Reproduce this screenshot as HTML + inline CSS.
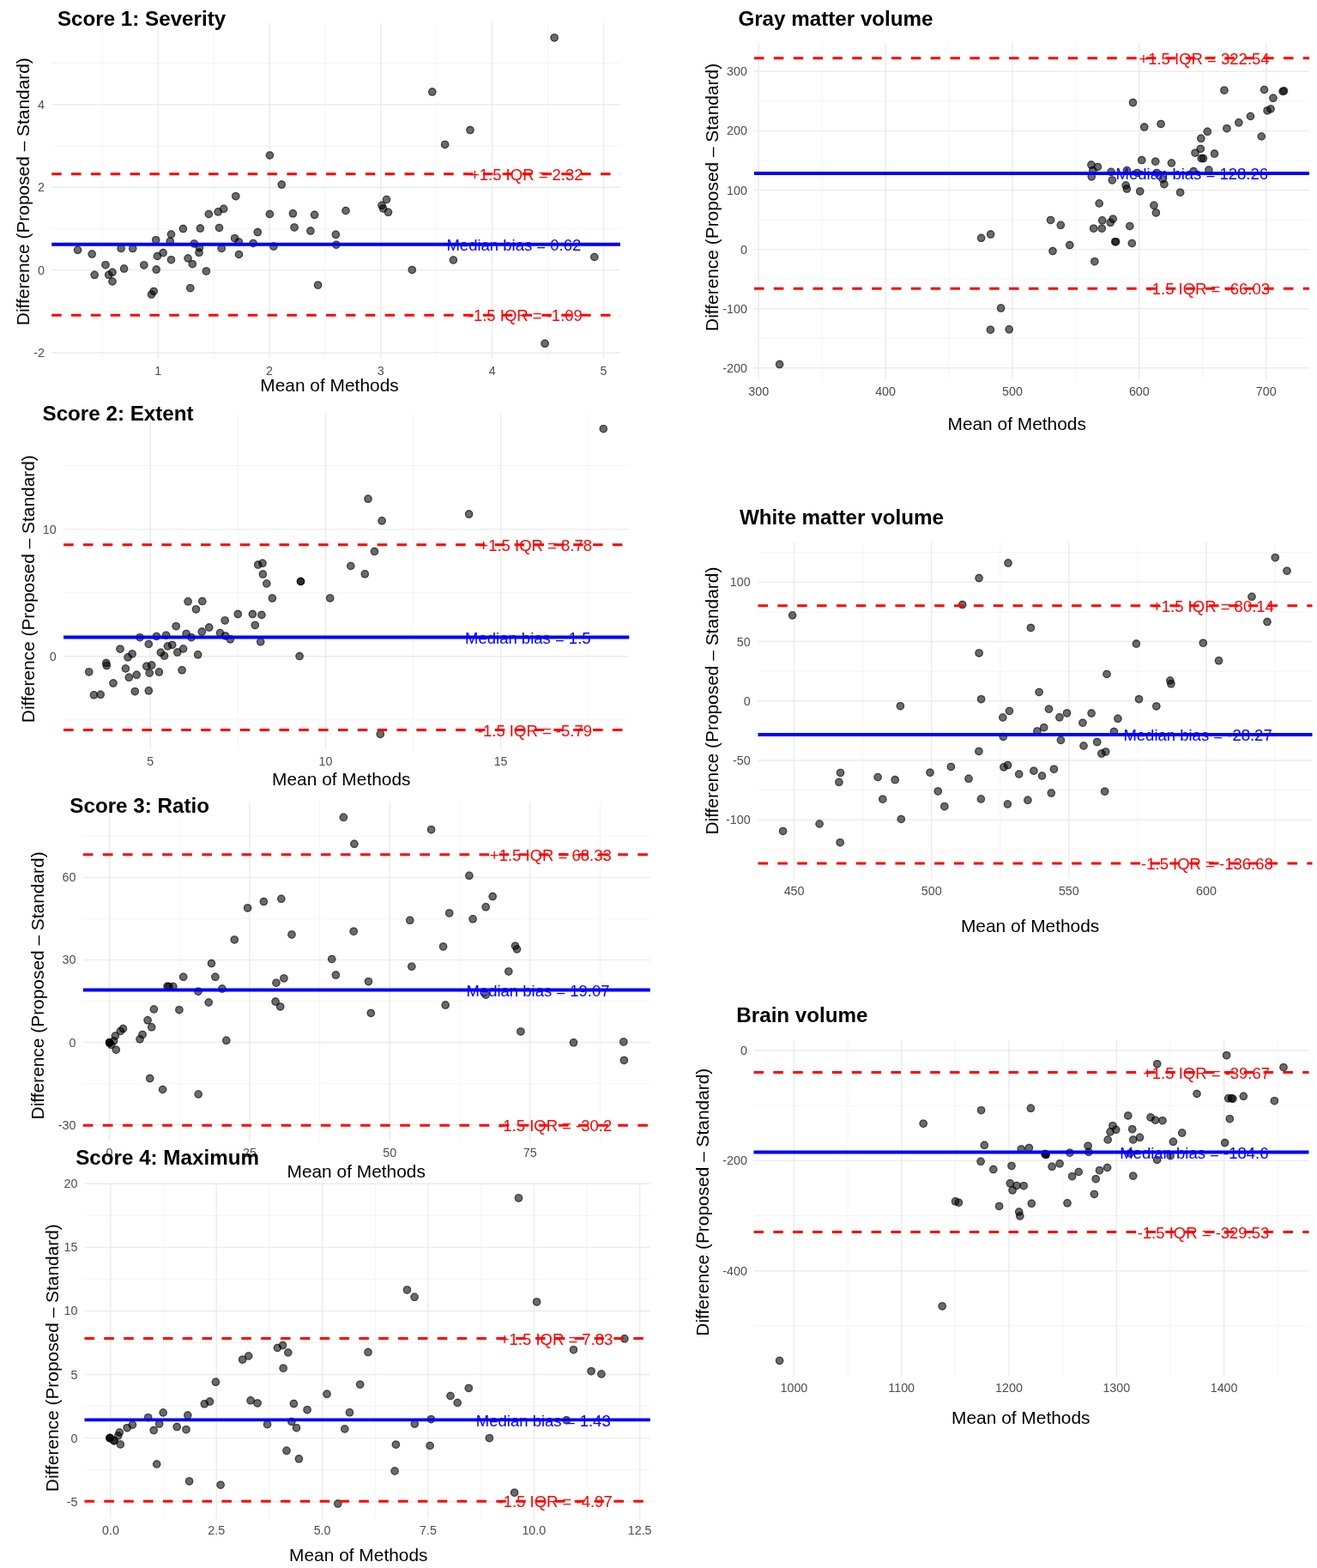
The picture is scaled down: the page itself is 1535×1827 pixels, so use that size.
<!DOCTYPE html>
<html><head><meta charset="utf-8"><title>Bland-Altman plots</title><style>html,body{margin:0;padding:0;background:#fff;}svg{display:block;}</style></head>
<body>
<svg width="1535" height="1827" viewBox="0 0 1535 1827" font-family="'Liberation Sans', Arial, Helvetica, sans-serif">
<rect width="1535" height="1827" fill="#fff"/>
<g><line x1="119.23" y1="26.6" x2="119.23" y2="418" stroke="#F4F4F4" stroke-width="1.0"/><line x1="249.07" y1="26.6" x2="249.07" y2="418" stroke="#F4F4F4" stroke-width="1.0"/><line x1="378.92" y1="26.6" x2="378.92" y2="418" stroke="#F4F4F4" stroke-width="1.0"/><line x1="508.77" y1="26.6" x2="508.77" y2="418" stroke="#F4F4F4" stroke-width="1.0"/><line x1="638.62" y1="26.6" x2="638.62" y2="418" stroke="#F4F4F4" stroke-width="1.0"/><line x1="60.2" y1="362.8" x2="723" y2="362.8" stroke="#F4F4F4" stroke-width="1.0"/><line x1="60.2" y1="266.4" x2="723" y2="266.4" stroke="#F4F4F4" stroke-width="1.0"/><line x1="60.2" y1="170" x2="723" y2="170" stroke="#F4F4F4" stroke-width="1.0"/><line x1="60.2" y1="73.6" x2="723" y2="73.6" stroke="#F4F4F4" stroke-width="1.0"/><line x1="184.15" y1="26.6" x2="184.15" y2="418" stroke="#EBEBEB" stroke-width="1.4"/><line x1="314" y1="26.6" x2="314" y2="418" stroke="#EBEBEB" stroke-width="1.4"/><line x1="443.85" y1="26.6" x2="443.85" y2="418" stroke="#EBEBEB" stroke-width="1.4"/><line x1="573.7" y1="26.6" x2="573.7" y2="418" stroke="#EBEBEB" stroke-width="1.4"/><line x1="703.55" y1="26.6" x2="703.55" y2="418" stroke="#EBEBEB" stroke-width="1.4"/><line x1="60.2" y1="411" x2="723" y2="411" stroke="#EBEBEB" stroke-width="1.4"/><line x1="60.2" y1="314.6" x2="723" y2="314.6" stroke="#EBEBEB" stroke-width="1.4"/><line x1="60.2" y1="218.2" x2="723" y2="218.2" stroke="#EBEBEB" stroke-width="1.4"/><line x1="60.2" y1="121.8" x2="723" y2="121.8" stroke="#EBEBEB" stroke-width="1.4"/></g>
<g fill="#000" fill-opacity="0.58" stroke="#000" stroke-opacity="0.45" stroke-width="1.3"><circle cx="90.6" cy="291.3" r="4.75" stroke="none"/><circle cx="90.6" cy="291.3" r="4.1" fill="none"/><circle cx="107.2" cy="296.1" r="4.75" stroke="none"/><circle cx="107.2" cy="296.1" r="4.1" fill="none"/><circle cx="110.2" cy="320.3" r="4.75" stroke="none"/><circle cx="110.2" cy="320.3" r="4.1" fill="none"/><circle cx="123" cy="308.7" r="4.75" stroke="none"/><circle cx="123" cy="308.7" r="4.1" fill="none"/><circle cx="126.7" cy="320.3" r="4.75" stroke="none"/><circle cx="126.7" cy="320.3" r="4.1" fill="none"/><circle cx="131" cy="317.3" r="4.75" stroke="none"/><circle cx="131" cy="317.3" r="4.1" fill="none"/><circle cx="131" cy="328" r="4.75" stroke="none"/><circle cx="131" cy="328" r="4.1" fill="none"/><circle cx="141.1" cy="289.4" r="4.75" stroke="none"/><circle cx="141.1" cy="289.4" r="4.1" fill="none"/><circle cx="144.6" cy="313.1" r="4.75" stroke="none"/><circle cx="144.6" cy="313.1" r="4.1" fill="none"/><circle cx="154.7" cy="289.6" r="4.75" stroke="none"/><circle cx="154.7" cy="289.6" r="4.1" fill="none"/><circle cx="167.8" cy="308.9" r="4.75" stroke="none"/><circle cx="167.8" cy="308.9" r="4.1" fill="none"/><circle cx="176.5" cy="343.1" r="4.75" stroke="none"/><circle cx="176.5" cy="343.1" r="4.1" fill="none"/><circle cx="179.2" cy="339.4" r="4.75" stroke="none"/><circle cx="179.2" cy="339.4" r="4.1" fill="none"/><circle cx="181.7" cy="279.7" r="4.75" stroke="none"/><circle cx="181.7" cy="279.7" r="4.1" fill="none"/><circle cx="182.2" cy="314.1" r="4.75" stroke="none"/><circle cx="182.2" cy="314.1" r="4.1" fill="none"/><circle cx="183.4" cy="298.5" r="4.75" stroke="none"/><circle cx="183.4" cy="298.5" r="4.1" fill="none"/><circle cx="190.1" cy="294.6" r="4.75" stroke="none"/><circle cx="190.1" cy="294.6" r="4.1" fill="none"/><circle cx="198.3" cy="281.2" r="4.75" stroke="none"/><circle cx="198.3" cy="281.2" r="4.1" fill="none"/><circle cx="199.5" cy="273" r="4.75" stroke="none"/><circle cx="199.5" cy="273" r="4.1" fill="none"/><circle cx="199.5" cy="302.7" r="4.75" stroke="none"/><circle cx="199.5" cy="302.7" r="4.1" fill="none"/><circle cx="213.4" cy="266.6" r="4.75" stroke="none"/><circle cx="213.4" cy="266.6" r="4.1" fill="none"/><circle cx="219.1" cy="301" r="4.75" stroke="none"/><circle cx="219.1" cy="301" r="4.1" fill="none"/><circle cx="221.8" cy="335.7" r="4.75" stroke="none"/><circle cx="221.8" cy="335.7" r="4.1" fill="none"/><circle cx="224.3" cy="307.7" r="4.75" stroke="none"/><circle cx="224.3" cy="307.7" r="4.1" fill="none"/><circle cx="226.3" cy="283.9" r="4.75" stroke="none"/><circle cx="226.3" cy="283.9" r="4.1" fill="none"/><circle cx="232" cy="294.3" r="4.75" stroke="none"/><circle cx="232" cy="294.3" r="4.1" fill="none"/><circle cx="232.5" cy="288.6" r="4.75" stroke="none"/><circle cx="232.5" cy="288.6" r="4.1" fill="none"/><circle cx="233.4" cy="266.1" r="4.75" stroke="none"/><circle cx="233.4" cy="266.1" r="4.1" fill="none"/><circle cx="240.4" cy="315.9" r="4.75" stroke="none"/><circle cx="240.4" cy="315.9" r="4.1" fill="none"/><circle cx="243.3" cy="249.5" r="4.75" stroke="none"/><circle cx="243.3" cy="249.5" r="4.1" fill="none"/><circle cx="254.2" cy="246.8" r="4.75" stroke="none"/><circle cx="254.2" cy="246.8" r="4.1" fill="none"/><circle cx="255.5" cy="265.4" r="4.75" stroke="none"/><circle cx="255.5" cy="265.4" r="4.1" fill="none"/><circle cx="258.2" cy="289.4" r="4.75" stroke="none"/><circle cx="258.2" cy="289.4" r="4.1" fill="none"/><circle cx="260.7" cy="243.3" r="4.75" stroke="none"/><circle cx="260.7" cy="243.3" r="4.1" fill="none"/><circle cx="273.6" cy="277.7" r="4.75" stroke="none"/><circle cx="273.6" cy="277.7" r="4.1" fill="none"/><circle cx="274.8" cy="228.7" r="4.75" stroke="none"/><circle cx="274.8" cy="228.7" r="4.1" fill="none"/><circle cx="278.3" cy="281.9" r="4.75" stroke="none"/><circle cx="278.3" cy="281.9" r="4.1" fill="none"/><circle cx="278.5" cy="296.5" r="4.75" stroke="none"/><circle cx="278.5" cy="296.5" r="4.1" fill="none"/><circle cx="295.1" cy="283.4" r="4.75" stroke="none"/><circle cx="295.1" cy="283.4" r="4.1" fill="none"/><circle cx="300.3" cy="270.6" r="4.75" stroke="none"/><circle cx="300.3" cy="270.6" r="4.1" fill="none"/><circle cx="314.4" cy="249.5" r="4.75" stroke="none"/><circle cx="314.4" cy="249.5" r="4.1" fill="none"/><circle cx="318.9" cy="287.1" r="4.75" stroke="none"/><circle cx="318.9" cy="287.1" r="4.1" fill="none"/><circle cx="328.3" cy="215.1" r="4.75" stroke="none"/><circle cx="328.3" cy="215.1" r="4.1" fill="none"/><circle cx="341.4" cy="248.8" r="4.75" stroke="none"/><circle cx="341.4" cy="248.8" r="4.1" fill="none"/><circle cx="343.1" cy="264.9" r="4.75" stroke="none"/><circle cx="343.1" cy="264.9" r="4.1" fill="none"/><circle cx="361.9" cy="269.1" r="4.75" stroke="none"/><circle cx="361.9" cy="269.1" r="4.1" fill="none"/><circle cx="366.6" cy="250.3" r="4.75" stroke="none"/><circle cx="366.6" cy="250.3" r="4.1" fill="none"/><circle cx="370.6" cy="332.2" r="4.75" stroke="none"/><circle cx="370.6" cy="332.2" r="4.1" fill="none"/><circle cx="314.4" cy="181" r="4.75" stroke="none"/><circle cx="314.4" cy="181" r="4.1" fill="none"/><circle cx="646.1" cy="43.9" r="4.75" stroke="none"/><circle cx="646.1" cy="43.9" r="4.1" fill="none"/><circle cx="503.8" cy="107.1" r="4.75" stroke="none"/><circle cx="503.8" cy="107.1" r="4.1" fill="none"/><circle cx="548" cy="151.6" r="4.75" stroke="none"/><circle cx="548" cy="151.6" r="4.1" fill="none"/><circle cx="518.6" cy="168.4" r="4.75" stroke="none"/><circle cx="518.6" cy="168.4" r="4.1" fill="none"/><circle cx="403" cy="245.5" r="4.75" stroke="none"/><circle cx="403" cy="245.5" r="4.1" fill="none"/><circle cx="450.5" cy="232.5" r="4.75" stroke="none"/><circle cx="450.5" cy="232.5" r="4.1" fill="none"/><circle cx="445" cy="239.3" r="4.75" stroke="none"/><circle cx="445" cy="239.3" r="4.1" fill="none"/><circle cx="446.6" cy="243" r="4.75" stroke="none"/><circle cx="446.6" cy="243" r="4.1" fill="none"/><circle cx="452.5" cy="247.3" r="4.75" stroke="none"/><circle cx="452.5" cy="247.3" r="4.1" fill="none"/><circle cx="391.4" cy="273.3" r="4.75" stroke="none"/><circle cx="391.4" cy="273.3" r="4.1" fill="none"/><circle cx="391.9" cy="285.2" r="4.75" stroke="none"/><circle cx="391.9" cy="285.2" r="4.1" fill="none"/><circle cx="528.4" cy="303" r="4.75" stroke="none"/><circle cx="528.4" cy="303" r="4.1" fill="none"/><circle cx="480.3" cy="314.4" r="4.75" stroke="none"/><circle cx="480.3" cy="314.4" r="4.1" fill="none"/><circle cx="692.8" cy="299.5" r="4.75" stroke="none"/><circle cx="692.8" cy="299.5" r="4.1" fill="none"/><circle cx="635.1" cy="400.3" r="4.75" stroke="none"/><circle cx="635.1" cy="400.3" r="4.1" fill="none"/></g>
<line x1="60.2" y1="202.78" x2="723" y2="202.78" stroke="#FF0000" stroke-width="3.0" stroke-dasharray="11.5 11.35"/>
<line x1="60.2" y1="284.72" x2="723" y2="284.72" stroke="#0000FF" stroke-width="3.9"/>
<line x1="60.2" y1="367.14" x2="723" y2="367.14" stroke="#FF0000" stroke-width="3.0" stroke-dasharray="11.5 11.35"/>
<text x="679.6" y="209.98" text-anchor="end" font-size="18.5" fill="#FF0000">+1.5 IQR = 2.32</text>
<text x="677.3" y="291.92" text-anchor="end" font-size="18.5" fill="#0000FF">Median bias = 0.62</text>
<text x="678.9" y="374.34" text-anchor="end" font-size="18.5" fill="#FF0000">-1.5 IQR = -1.09</text>
<text x="52" y="416" text-anchor="end" font-size="14.3" fill="#4D4D4D">-2</text>
<text x="52" y="319.6" text-anchor="end" font-size="14.3" fill="#4D4D4D">0</text>
<text x="52" y="223.2" text-anchor="end" font-size="14.3" fill="#4D4D4D">2</text>
<text x="52" y="126.8" text-anchor="end" font-size="14.3" fill="#4D4D4D">4</text>
<text x="184.15" y="436.7" text-anchor="middle" font-size="14.3" fill="#4D4D4D">1</text>
<text x="314" y="436.7" text-anchor="middle" font-size="14.3" fill="#4D4D4D">2</text>
<text x="443.85" y="436.7" text-anchor="middle" font-size="14.3" fill="#4D4D4D">3</text>
<text x="573.7" y="436.7" text-anchor="middle" font-size="14.3" fill="#4D4D4D">4</text>
<text x="703.55" y="436.7" text-anchor="middle" font-size="14.3" fill="#4D4D4D">5</text>
<text x="384" y="455.6" text-anchor="middle" font-size="20.9" fill="#000">Mean of Methods</text>
<text transform="translate(33.9,223.2) rotate(-90)" x="0" y="0" text-anchor="middle" font-size="20.9" fill="#000">Difference (Proposed – Standard)</text>
<text x="66.9" y="30.1" font-size="24.2" font-weight="bold" fill="#000">Score 1: Severity</text>
<g><line x1="277.38" y1="482" x2="277.38" y2="873" stroke="#F4F4F4" stroke-width="1.0"/><line x1="481.52" y1="482" x2="481.52" y2="873" stroke="#F4F4F4" stroke-width="1.0"/><line x1="685.67" y1="482" x2="685.67" y2="873" stroke="#F4F4F4" stroke-width="1.0"/><line x1="74.1" y1="838.9" x2="733.3" y2="838.9" stroke="#F4F4F4" stroke-width="1.0"/><line x1="74.1" y1="690.7" x2="733.3" y2="690.7" stroke="#F4F4F4" stroke-width="1.0"/><line x1="74.1" y1="542.5" x2="733.3" y2="542.5" stroke="#F4F4F4" stroke-width="1.0"/><line x1="175.3" y1="482" x2="175.3" y2="873" stroke="#EBEBEB" stroke-width="1.4"/><line x1="379.45" y1="482" x2="379.45" y2="873" stroke="#EBEBEB" stroke-width="1.4"/><line x1="583.6" y1="482" x2="583.6" y2="873" stroke="#EBEBEB" stroke-width="1.4"/><line x1="74.1" y1="764.8" x2="733.3" y2="764.8" stroke="#EBEBEB" stroke-width="1.4"/><line x1="74.1" y1="616.6" x2="733.3" y2="616.6" stroke="#EBEBEB" stroke-width="1.4"/></g>
<g fill="#000" fill-opacity="0.58" stroke="#000" stroke-opacity="0.45" stroke-width="1.3"><circle cx="103.7" cy="782.9" r="4.75" stroke="none"/><circle cx="103.7" cy="782.9" r="4.1" fill="none"/><circle cx="109.4" cy="809.8" r="4.75" stroke="none"/><circle cx="109.4" cy="809.8" r="4.1" fill="none"/><circle cx="117.2" cy="809.3" r="4.75" stroke="none"/><circle cx="117.2" cy="809.3" r="4.1" fill="none"/><circle cx="123.8" cy="772.6" r="4.75" stroke="none"/><circle cx="123.8" cy="772.6" r="4.1" fill="none"/><circle cx="124.3" cy="775.6" r="4.75" stroke="none"/><circle cx="124.3" cy="775.6" r="4.1" fill="none"/><circle cx="132" cy="796.1" r="4.75" stroke="none"/><circle cx="132" cy="796.1" r="4.1" fill="none"/><circle cx="140" cy="756.2" r="4.75" stroke="none"/><circle cx="140" cy="756.2" r="4.1" fill="none"/><circle cx="146.4" cy="779" r="4.75" stroke="none"/><circle cx="146.4" cy="779" r="4.1" fill="none"/><circle cx="149.1" cy="765.8" r="4.75" stroke="none"/><circle cx="149.1" cy="765.8" r="4.1" fill="none"/><circle cx="150.3" cy="789.3" r="4.75" stroke="none"/><circle cx="150.3" cy="789.3" r="4.1" fill="none"/><circle cx="154.1" cy="761.9" r="4.75" stroke="none"/><circle cx="154.1" cy="761.9" r="4.1" fill="none"/><circle cx="157.3" cy="805.7" r="4.75" stroke="none"/><circle cx="157.3" cy="805.7" r="4.1" fill="none"/><circle cx="159.2" cy="786.3" r="4.75" stroke="none"/><circle cx="159.2" cy="786.3" r="4.1" fill="none"/><circle cx="163" cy="742.7" r="4.75" stroke="none"/><circle cx="163" cy="742.7" r="4.1" fill="none"/><circle cx="170.8" cy="776.3" r="4.75" stroke="none"/><circle cx="170.8" cy="776.3" r="4.1" fill="none"/><circle cx="173.3" cy="750.5" r="4.75" stroke="none"/><circle cx="173.3" cy="750.5" r="4.1" fill="none"/><circle cx="173.3" cy="804.8" r="4.75" stroke="none"/><circle cx="173.3" cy="804.8" r="4.1" fill="none"/><circle cx="174.2" cy="784.2" r="4.75" stroke="none"/><circle cx="174.2" cy="784.2" r="4.1" fill="none"/><circle cx="176.7" cy="775.1" r="4.75" stroke="none"/><circle cx="176.7" cy="775.1" r="4.1" fill="none"/><circle cx="182.4" cy="741.4" r="4.75" stroke="none"/><circle cx="182.4" cy="741.4" r="4.1" fill="none"/><circle cx="185.4" cy="783.1" r="4.75" stroke="none"/><circle cx="185.4" cy="783.1" r="4.1" fill="none"/><circle cx="187.4" cy="760.3" r="4.75" stroke="none"/><circle cx="187.4" cy="760.3" r="4.1" fill="none"/><circle cx="191.5" cy="764.2" r="4.75" stroke="none"/><circle cx="191.5" cy="764.2" r="4.1" fill="none"/><circle cx="193.6" cy="740.2" r="4.75" stroke="none"/><circle cx="193.6" cy="740.2" r="4.1" fill="none"/><circle cx="195.4" cy="753" r="4.75" stroke="none"/><circle cx="195.4" cy="753" r="4.1" fill="none"/><circle cx="200.7" cy="751.4" r="4.75" stroke="none"/><circle cx="200.7" cy="751.4" r="4.1" fill="none"/><circle cx="205.2" cy="729.7" r="4.75" stroke="none"/><circle cx="205.2" cy="729.7" r="4.1" fill="none"/><circle cx="206.8" cy="760.1" r="4.75" stroke="none"/><circle cx="206.8" cy="760.1" r="4.1" fill="none"/><circle cx="212.1" cy="780.8" r="4.75" stroke="none"/><circle cx="212.1" cy="780.8" r="4.1" fill="none"/><circle cx="213.6" cy="756" r="4.75" stroke="none"/><circle cx="213.6" cy="756" r="4.1" fill="none"/><circle cx="217.1" cy="738.4" r="4.75" stroke="none"/><circle cx="217.1" cy="738.4" r="4.1" fill="none"/><circle cx="219.1" cy="700.8" r="4.75" stroke="none"/><circle cx="219.1" cy="700.8" r="4.1" fill="none"/><circle cx="223" cy="742.7" r="4.75" stroke="none"/><circle cx="223" cy="742.7" r="4.1" fill="none"/><circle cx="228.5" cy="709.9" r="4.75" stroke="none"/><circle cx="228.5" cy="709.9" r="4.1" fill="none"/><circle cx="230.7" cy="762.8" r="4.75" stroke="none"/><circle cx="230.7" cy="762.8" r="4.1" fill="none"/><circle cx="235.3" cy="736.1" r="4.75" stroke="none"/><circle cx="235.3" cy="736.1" r="4.1" fill="none"/><circle cx="235.8" cy="700.6" r="4.75" stroke="none"/><circle cx="235.8" cy="700.6" r="4.1" fill="none"/><circle cx="243.7" cy="731.1" r="4.75" stroke="none"/><circle cx="243.7" cy="731.1" r="4.1" fill="none"/><circle cx="256.5" cy="737.5" r="4.75" stroke="none"/><circle cx="256.5" cy="737.5" r="4.1" fill="none"/><circle cx="262.2" cy="722.9" r="4.75" stroke="none"/><circle cx="262.2" cy="722.9" r="4.1" fill="none"/><circle cx="262.7" cy="740.9" r="4.75" stroke="none"/><circle cx="262.7" cy="740.9" r="4.1" fill="none"/><circle cx="268.4" cy="744.8" r="4.75" stroke="none"/><circle cx="268.4" cy="744.8" r="4.1" fill="none"/><circle cx="277.3" cy="715.6" r="4.75" stroke="none"/><circle cx="277.3" cy="715.6" r="4.1" fill="none"/><circle cx="294.4" cy="715.6" r="4.75" stroke="none"/><circle cx="294.4" cy="715.6" r="4.1" fill="none"/><circle cx="297.3" cy="728.4" r="4.75" stroke="none"/><circle cx="297.3" cy="728.4" r="4.1" fill="none"/><circle cx="300.7" cy="658.1" r="4.75" stroke="none"/><circle cx="300.7" cy="658.1" r="4.1" fill="none"/><circle cx="303.7" cy="747.8" r="4.75" stroke="none"/><circle cx="303.7" cy="747.8" r="4.1" fill="none"/><circle cx="304.9" cy="716.5" r="4.75" stroke="none"/><circle cx="304.9" cy="716.5" r="4.1" fill="none"/><circle cx="306" cy="656.3" r="4.75" stroke="none"/><circle cx="306" cy="656.3" r="4.1" fill="none"/><circle cx="306.4" cy="669.1" r="4.75" stroke="none"/><circle cx="306.4" cy="669.1" r="4.1" fill="none"/><circle cx="310.8" cy="680" r="4.75" stroke="none"/><circle cx="310.8" cy="680" r="4.1" fill="none"/><circle cx="317.4" cy="697.1" r="4.75" stroke="none"/><circle cx="317.4" cy="697.1" r="4.1" fill="none"/><circle cx="349.1" cy="764.6" r="4.75" stroke="none"/><circle cx="349.1" cy="764.6" r="4.1" fill="none"/><circle cx="350.5" cy="677.5" r="4.75" stroke="none"/><circle cx="350.5" cy="677.5" r="4.1" fill="none"/><circle cx="350.5" cy="677.5" r="4.75" stroke="none"/><circle cx="350.5" cy="677.5" r="4.1" fill="none"/><circle cx="384.7" cy="696.9" r="4.75" stroke="none"/><circle cx="384.7" cy="696.9" r="4.1" fill="none"/><circle cx="408.8" cy="659.5" r="4.75" stroke="none"/><circle cx="408.8" cy="659.5" r="4.1" fill="none"/><circle cx="703.3" cy="499.7" r="4.75" stroke="none"/><circle cx="703.3" cy="499.7" r="4.1" fill="none"/><circle cx="429" cy="581.3" r="4.75" stroke="none"/><circle cx="429" cy="581.3" r="4.1" fill="none"/><circle cx="445.1" cy="606.8" r="4.75" stroke="none"/><circle cx="445.1" cy="606.8" r="4.1" fill="none"/><circle cx="546.6" cy="599.1" r="4.75" stroke="none"/><circle cx="546.6" cy="599.1" r="4.1" fill="none"/><circle cx="436.5" cy="642.6" r="4.75" stroke="none"/><circle cx="436.5" cy="642.6" r="4.1" fill="none"/><circle cx="425.3" cy="668.8" r="4.75" stroke="none"/><circle cx="425.3" cy="668.8" r="4.1" fill="none"/><circle cx="443.3" cy="855.4" r="4.75" stroke="none"/><circle cx="443.3" cy="855.4" r="4.1" fill="none"/></g>
<line x1="74.1" y1="634.68" x2="733.3" y2="634.68" stroke="#FF0000" stroke-width="3.0" stroke-dasharray="11.5 11.35"/>
<line x1="74.1" y1="742.57" x2="733.3" y2="742.57" stroke="#0000FF" stroke-width="3.9"/>
<line x1="74.1" y1="850.61" x2="733.3" y2="850.61" stroke="#FF0000" stroke-width="3.0" stroke-dasharray="11.5 11.35"/>
<text x="690" y="641.88" text-anchor="end" font-size="18.5" fill="#FF0000">+1.5 IQR = 8.78</text>
<text x="688.6" y="749.77" text-anchor="end" font-size="18.5" fill="#0000FF">Median bias = 1.5</text>
<text x="690" y="857.81" text-anchor="end" font-size="18.5" fill="#FF0000">-1.5 IQR = -5.79</text>
<text x="65.6" y="769.8" text-anchor="end" font-size="14.3" fill="#4D4D4D">0</text>
<text x="65.6" y="621.6" text-anchor="end" font-size="14.3" fill="#4D4D4D">10</text>
<text x="175.3" y="892.1" text-anchor="middle" font-size="14.3" fill="#4D4D4D">5</text>
<text x="379.45" y="892.1" text-anchor="middle" font-size="14.3" fill="#4D4D4D">10</text>
<text x="583.6" y="892.1" text-anchor="middle" font-size="14.3" fill="#4D4D4D">15</text>
<text x="397.8" y="914.6" text-anchor="middle" font-size="20.9" fill="#000">Mean of Methods</text>
<text transform="translate(39.6,686.2) rotate(-90)" x="0" y="0" text-anchor="middle" font-size="20.9" fill="#000">Difference (Proposed – Standard)</text>
<text x="49.5" y="490" font-size="24.2" font-weight="bold" fill="#000">Score 2: Extent</text>
<g><line x1="209.2" y1="934.5" x2="209.2" y2="1328.8" stroke="#F4F4F4" stroke-width="1.0"/><line x1="372.6" y1="934.5" x2="372.6" y2="1328.8" stroke="#F4F4F4" stroke-width="1.0"/><line x1="536" y1="934.5" x2="536" y2="1328.8" stroke="#F4F4F4" stroke-width="1.0"/><line x1="699.4" y1="934.5" x2="699.4" y2="1328.8" stroke="#F4F4F4" stroke-width="1.0"/><line x1="96.8" y1="1262.53" x2="757.8" y2="1262.53" stroke="#F4F4F4" stroke-width="1.0"/><line x1="96.8" y1="1166.47" x2="757.8" y2="1166.47" stroke="#F4F4F4" stroke-width="1.0"/><line x1="96.8" y1="1070.42" x2="757.8" y2="1070.42" stroke="#F4F4F4" stroke-width="1.0"/><line x1="96.8" y1="974.37" x2="757.8" y2="974.37" stroke="#F4F4F4" stroke-width="1.0"/><line x1="127.5" y1="934.5" x2="127.5" y2="1328.8" stroke="#EBEBEB" stroke-width="1.4"/><line x1="290.9" y1="934.5" x2="290.9" y2="1328.8" stroke="#EBEBEB" stroke-width="1.4"/><line x1="454.3" y1="934.5" x2="454.3" y2="1328.8" stroke="#EBEBEB" stroke-width="1.4"/><line x1="617.7" y1="934.5" x2="617.7" y2="1328.8" stroke="#EBEBEB" stroke-width="1.4"/><line x1="96.8" y1="1310.55" x2="757.8" y2="1310.55" stroke="#EBEBEB" stroke-width="1.4"/><line x1="96.8" y1="1214.5" x2="757.8" y2="1214.5" stroke="#EBEBEB" stroke-width="1.4"/><line x1="96.8" y1="1118.45" x2="757.8" y2="1118.45" stroke="#EBEBEB" stroke-width="1.4"/><line x1="96.8" y1="1022.4" x2="757.8" y2="1022.4" stroke="#EBEBEB" stroke-width="1.4"/></g>
<g fill="#000" fill-opacity="0.58" stroke="#000" stroke-opacity="0.45" stroke-width="1.3"><circle cx="127.6" cy="1214.8" r="4.75" stroke="none"/><circle cx="127.6" cy="1214.8" r="4.1" fill="none"/><circle cx="127.6" cy="1214.8" r="4.75" stroke="none"/><circle cx="127.6" cy="1214.8" r="4.1" fill="none"/><circle cx="127.6" cy="1214.8" r="4.75" stroke="none"/><circle cx="127.6" cy="1214.8" r="4.1" fill="none"/><circle cx="129.6" cy="1217.3" r="4.75" stroke="none"/><circle cx="129.6" cy="1217.3" r="4.1" fill="none"/><circle cx="132.6" cy="1212.8" r="4.75" stroke="none"/><circle cx="132.6" cy="1212.8" r="4.1" fill="none"/><circle cx="135.3" cy="1223.2" r="4.75" stroke="none"/><circle cx="135.3" cy="1223.2" r="4.1" fill="none"/><circle cx="134.4" cy="1207" r="4.75" stroke="none"/><circle cx="134.4" cy="1207" r="4.1" fill="none"/><circle cx="140.4" cy="1201.5" r="4.75" stroke="none"/><circle cx="140.4" cy="1201.5" r="4.1" fill="none"/><circle cx="143.5" cy="1198.6" r="4.75" stroke="none"/><circle cx="143.5" cy="1198.6" r="4.1" fill="none"/><circle cx="163" cy="1210.8" r="4.75" stroke="none"/><circle cx="163" cy="1210.8" r="4.1" fill="none"/><circle cx="166.1" cy="1205.4" r="4.75" stroke="none"/><circle cx="166.1" cy="1205.4" r="4.1" fill="none"/><circle cx="172.1" cy="1188.8" r="4.75" stroke="none"/><circle cx="172.1" cy="1188.8" r="4.1" fill="none"/><circle cx="176.7" cy="1196.8" r="4.75" stroke="none"/><circle cx="176.7" cy="1196.8" r="4.1" fill="none"/><circle cx="179.4" cy="1176" r="4.75" stroke="none"/><circle cx="179.4" cy="1176" r="4.1" fill="none"/><circle cx="174.7" cy="1256.6" r="4.75" stroke="none"/><circle cx="174.7" cy="1256.6" r="4.1" fill="none"/><circle cx="189.6" cy="1269.5" r="4.75" stroke="none"/><circle cx="189.6" cy="1269.5" r="4.1" fill="none"/><circle cx="195.1" cy="1149.2" r="4.75" stroke="none"/><circle cx="195.1" cy="1149.2" r="4.1" fill="none"/><circle cx="196.9" cy="1149.4" r="4.75" stroke="none"/><circle cx="196.9" cy="1149.4" r="4.1" fill="none"/><circle cx="201.8" cy="1149.4" r="4.75" stroke="none"/><circle cx="201.8" cy="1149.4" r="4.1" fill="none"/><circle cx="208.9" cy="1176.7" r="4.75" stroke="none"/><circle cx="208.9" cy="1176.7" r="4.1" fill="none"/><circle cx="213.7" cy="1138.3" r="4.75" stroke="none"/><circle cx="213.7" cy="1138.3" r="4.1" fill="none"/><circle cx="231" cy="1155.2" r="4.75" stroke="none"/><circle cx="231" cy="1155.2" r="4.1" fill="none"/><circle cx="231.2" cy="1275" r="4.75" stroke="none"/><circle cx="231.2" cy="1275" r="4.1" fill="none"/><circle cx="243.2" cy="1168" r="4.75" stroke="none"/><circle cx="243.2" cy="1168" r="4.1" fill="none"/><circle cx="246.5" cy="1122.6" r="4.75" stroke="none"/><circle cx="246.5" cy="1122.6" r="4.1" fill="none"/><circle cx="250.9" cy="1138.3" r="4.75" stroke="none"/><circle cx="250.9" cy="1138.3" r="4.1" fill="none"/><circle cx="258.9" cy="1152.1" r="4.75" stroke="none"/><circle cx="258.9" cy="1152.1" r="4.1" fill="none"/><circle cx="263.8" cy="1212.3" r="4.75" stroke="none"/><circle cx="263.8" cy="1212.3" r="4.1" fill="none"/><circle cx="273.3" cy="1094.9" r="4.75" stroke="none"/><circle cx="273.3" cy="1094.9" r="4.1" fill="none"/><circle cx="288.6" cy="1057.9" r="4.75" stroke="none"/><circle cx="288.6" cy="1057.9" r="4.1" fill="none"/><circle cx="307.4" cy="1050.6" r="4.75" stroke="none"/><circle cx="307.4" cy="1050.6" r="4.1" fill="none"/><circle cx="321.1" cy="1167.1" r="4.75" stroke="none"/><circle cx="321.1" cy="1167.1" r="4.1" fill="none"/><circle cx="322" cy="1145.2" r="4.75" stroke="none"/><circle cx="322" cy="1145.2" r="4.1" fill="none"/><circle cx="326.7" cy="1172.9" r="4.75" stroke="none"/><circle cx="326.7" cy="1172.9" r="4.1" fill="none"/><circle cx="327.8" cy="1047.3" r="4.75" stroke="none"/><circle cx="327.8" cy="1047.3" r="4.1" fill="none"/><circle cx="330.9" cy="1139.9" r="4.75" stroke="none"/><circle cx="330.9" cy="1139.9" r="4.1" fill="none"/><circle cx="340" cy="1088.9" r="4.75" stroke="none"/><circle cx="340" cy="1088.9" r="4.1" fill="none"/><circle cx="386.7" cy="1117.5" r="4.75" stroke="none"/><circle cx="386.7" cy="1117.5" r="4.1" fill="none"/><circle cx="391.4" cy="1136.1" r="4.75" stroke="none"/><circle cx="391.4" cy="1136.1" r="4.1" fill="none"/><circle cx="400.4" cy="952.3" r="4.75" stroke="none"/><circle cx="400.4" cy="952.3" r="4.1" fill="none"/><circle cx="412.2" cy="1085.2" r="4.75" stroke="none"/><circle cx="412.2" cy="1085.2" r="4.1" fill="none"/><circle cx="412.9" cy="983.3" r="4.75" stroke="none"/><circle cx="412.9" cy="983.3" r="4.1" fill="none"/><circle cx="429.5" cy="1143.7" r="4.75" stroke="none"/><circle cx="429.5" cy="1143.7" r="4.1" fill="none"/><circle cx="432.3" cy="1180.4" r="4.75" stroke="none"/><circle cx="432.3" cy="1180.4" r="4.1" fill="none"/><circle cx="502.6" cy="966.7" r="4.75" stroke="none"/><circle cx="502.6" cy="966.7" r="4.1" fill="none"/><circle cx="546.9" cy="1020.3" r="4.75" stroke="none"/><circle cx="546.9" cy="1020.3" r="4.1" fill="none"/><circle cx="574.2" cy="1044.6" r="4.75" stroke="none"/><circle cx="574.2" cy="1044.6" r="4.1" fill="none"/><circle cx="566.2" cy="1056.8" r="4.75" stroke="none"/><circle cx="566.2" cy="1056.8" r="4.1" fill="none"/><circle cx="523.7" cy="1063.9" r="4.75" stroke="none"/><circle cx="523.7" cy="1063.9" r="4.1" fill="none"/><circle cx="477.8" cy="1072.3" r="4.75" stroke="none"/><circle cx="477.8" cy="1072.3" r="4.1" fill="none"/><circle cx="551.1" cy="1070.8" r="4.75" stroke="none"/><circle cx="551.1" cy="1070.8" r="4.1" fill="none"/><circle cx="516.6" cy="1102.9" r="4.75" stroke="none"/><circle cx="516.6" cy="1102.9" r="4.1" fill="none"/><circle cx="600.5" cy="1102.2" r="4.75" stroke="none"/><circle cx="600.5" cy="1102.2" r="4.1" fill="none"/><circle cx="602.5" cy="1106" r="4.75" stroke="none"/><circle cx="602.5" cy="1106" r="4.1" fill="none"/><circle cx="479.8" cy="1126.2" r="4.75" stroke="none"/><circle cx="479.8" cy="1126.2" r="4.1" fill="none"/><circle cx="592.8" cy="1131.9" r="4.75" stroke="none"/><circle cx="592.8" cy="1131.9" r="4.1" fill="none"/><circle cx="566.2" cy="1159.2" r="4.75" stroke="none"/><circle cx="566.2" cy="1159.2" r="4.1" fill="none"/><circle cx="519.2" cy="1171.1" r="4.75" stroke="none"/><circle cx="519.2" cy="1171.1" r="4.1" fill="none"/><circle cx="606.9" cy="1201.9" r="4.75" stroke="none"/><circle cx="606.9" cy="1201.9" r="4.1" fill="none"/><circle cx="668.5" cy="1214.8" r="4.75" stroke="none"/><circle cx="668.5" cy="1214.8" r="4.1" fill="none"/><circle cx="726.8" cy="1213.9" r="4.75" stroke="none"/><circle cx="726.8" cy="1213.9" r="4.1" fill="none"/><circle cx="727.4" cy="1235.4" r="4.75" stroke="none"/><circle cx="727.4" cy="1235.4" r="4.1" fill="none"/></g>
<line x1="96.8" y1="995.73" x2="757.8" y2="995.73" stroke="#FF0000" stroke-width="3.0" stroke-dasharray="11.6 11.49"/>
<line x1="96.8" y1="1153.44" x2="757.8" y2="1153.44" stroke="#0000FF" stroke-width="3.9"/>
<line x1="96.8" y1="1311.19" x2="757.8" y2="1311.19" stroke="#FF0000" stroke-width="3.0" stroke-dasharray="11.6 11.49"/>
<text x="712.8" y="1002.93" text-anchor="end" font-size="18.5" fill="#FF0000">+1.5 IQR = 68.33</text>
<text x="710.6" y="1160.64" text-anchor="end" font-size="18.5" fill="#0000FF">Median bias = 19.07</text>
<text x="713.3" y="1318.39" text-anchor="end" font-size="18.5" fill="#FF0000">-1.5 IQR = -30.2</text>
<text x="88.5" y="1315.55" text-anchor="end" font-size="14.3" fill="#4D4D4D">-30</text>
<text x="88.5" y="1219.5" text-anchor="end" font-size="14.3" fill="#4D4D4D">0</text>
<text x="88.5" y="1123.45" text-anchor="end" font-size="14.3" fill="#4D4D4D">30</text>
<text x="88.5" y="1027.4" text-anchor="end" font-size="14.3" fill="#4D4D4D">60</text>
<text x="127.5" y="1348.2" text-anchor="middle" font-size="14.3" fill="#4D4D4D">0</text>
<text x="290.9" y="1348.2" text-anchor="middle" font-size="14.3" fill="#4D4D4D">25</text>
<text x="454.3" y="1348.2" text-anchor="middle" font-size="14.3" fill="#4D4D4D">50</text>
<text x="617.7" y="1348.2" text-anchor="middle" font-size="14.3" fill="#4D4D4D">75</text>
<text x="415.2" y="1372.3" text-anchor="middle" font-size="20.9" fill="#000">Mean of Methods</text>
<text transform="translate(50.7,1148.4) rotate(-90)" x="0" y="0" text-anchor="middle" font-size="20.9" fill="#000">Difference (Proposed – Standard)</text>
<text x="81.3" y="946.7" font-size="24.2" font-weight="bold" fill="#000">Score 3: Ratio</text>
<g><line x1="190.58" y1="1378" x2="190.58" y2="1769.5" stroke="#F4F4F4" stroke-width="1.0"/><line x1="313.93" y1="1378" x2="313.93" y2="1769.5" stroke="#F4F4F4" stroke-width="1.0"/><line x1="437.27" y1="1378" x2="437.27" y2="1769.5" stroke="#F4F4F4" stroke-width="1.0"/><line x1="560.62" y1="1378" x2="560.62" y2="1769.5" stroke="#F4F4F4" stroke-width="1.0"/><line x1="683.98" y1="1378" x2="683.98" y2="1769.5" stroke="#F4F4F4" stroke-width="1.0"/><line x1="98.5" y1="1712.64" x2="757.8" y2="1712.64" stroke="#F4F4F4" stroke-width="1.0"/><line x1="98.5" y1="1638.56" x2="757.8" y2="1638.56" stroke="#F4F4F4" stroke-width="1.0"/><line x1="98.5" y1="1564.49" x2="757.8" y2="1564.49" stroke="#F4F4F4" stroke-width="1.0"/><line x1="98.5" y1="1490.41" x2="757.8" y2="1490.41" stroke="#F4F4F4" stroke-width="1.0"/><line x1="98.5" y1="1416.34" x2="757.8" y2="1416.34" stroke="#F4F4F4" stroke-width="1.0"/><line x1="128.9" y1="1378" x2="128.9" y2="1769.5" stroke="#EBEBEB" stroke-width="1.4"/><line x1="252.25" y1="1378" x2="252.25" y2="1769.5" stroke="#EBEBEB" stroke-width="1.4"/><line x1="375.6" y1="1378" x2="375.6" y2="1769.5" stroke="#EBEBEB" stroke-width="1.4"/><line x1="498.95" y1="1378" x2="498.95" y2="1769.5" stroke="#EBEBEB" stroke-width="1.4"/><line x1="622.3" y1="1378" x2="622.3" y2="1769.5" stroke="#EBEBEB" stroke-width="1.4"/><line x1="745.65" y1="1378" x2="745.65" y2="1769.5" stroke="#EBEBEB" stroke-width="1.4"/><line x1="98.5" y1="1749.67" x2="757.8" y2="1749.67" stroke="#EBEBEB" stroke-width="1.4"/><line x1="98.5" y1="1675.6" x2="757.8" y2="1675.6" stroke="#EBEBEB" stroke-width="1.4"/><line x1="98.5" y1="1601.52" x2="757.8" y2="1601.52" stroke="#EBEBEB" stroke-width="1.4"/><line x1="98.5" y1="1527.45" x2="757.8" y2="1527.45" stroke="#EBEBEB" stroke-width="1.4"/><line x1="98.5" y1="1453.38" x2="757.8" y2="1453.38" stroke="#EBEBEB" stroke-width="1.4"/><line x1="98.5" y1="1379.3" x2="757.8" y2="1379.3" stroke="#EBEBEB" stroke-width="1.4"/></g>
<g fill="#000" fill-opacity="0.58" stroke="#000" stroke-opacity="0.45" stroke-width="1.3"><circle cx="128.1" cy="1675.6" r="4.75" stroke="none"/><circle cx="128.1" cy="1675.6" r="4.1" fill="none"/><circle cx="128.1" cy="1675.6" r="4.75" stroke="none"/><circle cx="128.1" cy="1675.6" r="4.1" fill="none"/><circle cx="128.1" cy="1675.6" r="4.75" stroke="none"/><circle cx="128.1" cy="1675.6" r="4.1" fill="none"/><circle cx="132.9" cy="1678.7" r="4.75" stroke="none"/><circle cx="132.9" cy="1678.7" r="4.1" fill="none"/><circle cx="132.9" cy="1678.7" r="4.75" stroke="none"/><circle cx="132.9" cy="1678.7" r="4.1" fill="none"/><circle cx="137.7" cy="1673" r="4.75" stroke="none"/><circle cx="137.7" cy="1673" r="4.1" fill="none"/><circle cx="139.3" cy="1669" r="4.75" stroke="none"/><circle cx="139.3" cy="1669" r="4.1" fill="none"/><circle cx="140.4" cy="1683" r="4.75" stroke="none"/><circle cx="140.4" cy="1683" r="4.1" fill="none"/><circle cx="148.2" cy="1663.7" r="4.75" stroke="none"/><circle cx="148.2" cy="1663.7" r="4.1" fill="none"/><circle cx="154.4" cy="1660.2" r="4.75" stroke="none"/><circle cx="154.4" cy="1660.2" r="4.1" fill="none"/><circle cx="172.7" cy="1651.7" r="4.75" stroke="none"/><circle cx="172.7" cy="1651.7" r="4.1" fill="none"/><circle cx="179.2" cy="1666.6" r="4.75" stroke="none"/><circle cx="179.2" cy="1666.6" r="4.1" fill="none"/><circle cx="182.7" cy="1706" r="4.75" stroke="none"/><circle cx="182.7" cy="1706" r="4.1" fill="none"/><circle cx="185.6" cy="1659.1" r="4.75" stroke="none"/><circle cx="185.6" cy="1659.1" r="4.1" fill="none"/><circle cx="190.2" cy="1646" r="4.75" stroke="none"/><circle cx="190.2" cy="1646" r="4.1" fill="none"/><circle cx="206.2" cy="1662.6" r="4.75" stroke="none"/><circle cx="206.2" cy="1662.6" r="4.1" fill="none"/><circle cx="217" cy="1665.7" r="4.75" stroke="none"/><circle cx="217" cy="1665.7" r="4.1" fill="none"/><circle cx="218.8" cy="1649.1" r="4.75" stroke="none"/><circle cx="218.8" cy="1649.1" r="4.1" fill="none"/><circle cx="220.6" cy="1725.9" r="4.75" stroke="none"/><circle cx="220.6" cy="1725.9" r="4.1" fill="none"/><circle cx="238.3" cy="1635.8" r="4.75" stroke="none"/><circle cx="238.3" cy="1635.8" r="4.1" fill="none"/><circle cx="244.5" cy="1633.1" r="4.75" stroke="none"/><circle cx="244.5" cy="1633.1" r="4.1" fill="none"/><circle cx="251.4" cy="1610.3" r="4.75" stroke="none"/><circle cx="251.4" cy="1610.3" r="4.1" fill="none"/><circle cx="257.1" cy="1730.2" r="4.75" stroke="none"/><circle cx="257.1" cy="1730.2" r="4.1" fill="none"/><circle cx="282.6" cy="1584.2" r="4.75" stroke="none"/><circle cx="282.6" cy="1584.2" r="4.1" fill="none"/><circle cx="289.7" cy="1580" r="4.75" stroke="none"/><circle cx="289.7" cy="1580" r="4.1" fill="none"/><circle cx="292.1" cy="1631.8" r="4.75" stroke="none"/><circle cx="292.1" cy="1631.8" r="4.1" fill="none"/><circle cx="300.1" cy="1634.9" r="4.75" stroke="none"/><circle cx="300.1" cy="1634.9" r="4.1" fill="none"/><circle cx="311.6" cy="1659.7" r="4.75" stroke="none"/><circle cx="311.6" cy="1659.7" r="4.1" fill="none"/><circle cx="323.4" cy="1570.5" r="4.75" stroke="none"/><circle cx="323.4" cy="1570.5" r="4.1" fill="none"/><circle cx="329.6" cy="1567.6" r="4.75" stroke="none"/><circle cx="329.6" cy="1567.6" r="4.1" fill="none"/><circle cx="330.2" cy="1594.2" r="4.75" stroke="none"/><circle cx="330.2" cy="1594.2" r="4.1" fill="none"/><circle cx="334" cy="1690.3" r="4.75" stroke="none"/><circle cx="334" cy="1690.3" r="4.1" fill="none"/><circle cx="335.8" cy="1576" r="4.75" stroke="none"/><circle cx="335.8" cy="1576" r="4.1" fill="none"/><circle cx="339.8" cy="1656.4" r="4.75" stroke="none"/><circle cx="339.8" cy="1656.4" r="4.1" fill="none"/><circle cx="342.4" cy="1635.6" r="4.75" stroke="none"/><circle cx="342.4" cy="1635.6" r="4.1" fill="none"/><circle cx="345.5" cy="1663.7" r="4.75" stroke="none"/><circle cx="345.5" cy="1663.7" r="4.1" fill="none"/><circle cx="348.4" cy="1699.8" r="4.75" stroke="none"/><circle cx="348.4" cy="1699.8" r="4.1" fill="none"/><circle cx="358.1" cy="1642.7" r="4.75" stroke="none"/><circle cx="358.1" cy="1642.7" r="4.1" fill="none"/><circle cx="381" cy="1624.3" r="4.75" stroke="none"/><circle cx="381" cy="1624.3" r="4.1" fill="none"/><circle cx="393.8" cy="1752.1" r="4.75" stroke="none"/><circle cx="393.8" cy="1752.1" r="4.1" fill="none"/><circle cx="401.8" cy="1665" r="4.75" stroke="none"/><circle cx="401.8" cy="1665" r="4.1" fill="none"/><circle cx="407.5" cy="1645.8" r="4.75" stroke="none"/><circle cx="407.5" cy="1645.8" r="4.1" fill="none"/><circle cx="419.7" cy="1613.2" r="4.75" stroke="none"/><circle cx="419.7" cy="1613.2" r="4.1" fill="none"/><circle cx="429" cy="1575.6" r="4.75" stroke="none"/><circle cx="429" cy="1575.6" r="4.1" fill="none"/><circle cx="604.5" cy="1395.9" r="4.75" stroke="none"/><circle cx="604.5" cy="1395.9" r="4.1" fill="none"/><circle cx="474.5" cy="1502.9" r="4.75" stroke="none"/><circle cx="474.5" cy="1502.9" r="4.1" fill="none"/><circle cx="483.1" cy="1511.3" r="4.75" stroke="none"/><circle cx="483.1" cy="1511.3" r="4.1" fill="none"/><circle cx="625.6" cy="1516.9" r="4.75" stroke="none"/><circle cx="625.6" cy="1516.9" r="4.1" fill="none"/><circle cx="727.9" cy="1559.8" r="4.75" stroke="none"/><circle cx="727.9" cy="1559.8" r="4.1" fill="none"/><circle cx="668.5" cy="1572.7" r="4.75" stroke="none"/><circle cx="668.5" cy="1572.7" r="4.1" fill="none"/><circle cx="689.1" cy="1597.7" r="4.75" stroke="none"/><circle cx="689.1" cy="1597.7" r="4.1" fill="none"/><circle cx="700.9" cy="1601" r="4.75" stroke="none"/><circle cx="700.9" cy="1601" r="4.1" fill="none"/><circle cx="546.3" cy="1617.4" r="4.75" stroke="none"/><circle cx="546.3" cy="1617.4" r="4.1" fill="none"/><circle cx="525" cy="1626.5" r="4.75" stroke="none"/><circle cx="525" cy="1626.5" r="4.1" fill="none"/><circle cx="533.2" cy="1634.5" r="4.75" stroke="none"/><circle cx="533.2" cy="1634.5" r="4.1" fill="none"/><circle cx="502.4" cy="1653.7" r="4.75" stroke="none"/><circle cx="502.4" cy="1653.7" r="4.1" fill="none"/><circle cx="483.3" cy="1659.1" r="4.75" stroke="none"/><circle cx="483.3" cy="1659.1" r="4.1" fill="none"/><circle cx="660.3" cy="1654.8" r="4.75" stroke="none"/><circle cx="660.3" cy="1654.8" r="4.1" fill="none"/><circle cx="570.4" cy="1675.7" r="4.75" stroke="none"/><circle cx="570.4" cy="1675.7" r="4.1" fill="none"/><circle cx="461.4" cy="1683.2" r="4.75" stroke="none"/><circle cx="461.4" cy="1683.2" r="4.1" fill="none"/><circle cx="501.1" cy="1684.5" r="4.75" stroke="none"/><circle cx="501.1" cy="1684.5" r="4.1" fill="none"/><circle cx="460.1" cy="1714" r="4.75" stroke="none"/><circle cx="460.1" cy="1714" r="4.1" fill="none"/><circle cx="599.6" cy="1739.2" r="4.75" stroke="none"/><circle cx="599.6" cy="1739.2" r="4.1" fill="none"/></g>
<line x1="98.5" y1="1559.6" x2="757.8" y2="1559.6" stroke="#FF0000" stroke-width="3.0" stroke-dasharray="11.5 11.35"/>
<line x1="98.5" y1="1654.41" x2="757.8" y2="1654.41" stroke="#0000FF" stroke-width="3.9"/>
<line x1="98.5" y1="1749.23" x2="757.8" y2="1749.23" stroke="#FF0000" stroke-width="3.0" stroke-dasharray="11.5 11.35"/>
<text x="714.4" y="1566.8" text-anchor="end" font-size="18.5" fill="#FF0000">+1.5 IQR = 7.83</text>
<text x="711.7" y="1661.61" text-anchor="end" font-size="18.5" fill="#0000FF">Median bias = 1.43</text>
<text x="713.7" y="1756.43" text-anchor="end" font-size="18.5" fill="#FF0000">-1.5 IQR = -4.97</text>
<text x="90.5" y="1754.67" text-anchor="end" font-size="14.3" fill="#4D4D4D">-5</text>
<text x="90.5" y="1680.6" text-anchor="end" font-size="14.3" fill="#4D4D4D">0</text>
<text x="90.5" y="1606.52" text-anchor="end" font-size="14.3" fill="#4D4D4D">5</text>
<text x="90.5" y="1532.45" text-anchor="end" font-size="14.3" fill="#4D4D4D">10</text>
<text x="90.5" y="1458.38" text-anchor="end" font-size="14.3" fill="#4D4D4D">15</text>
<text x="90.5" y="1384.3" text-anchor="end" font-size="14.3" fill="#4D4D4D">20</text>
<text x="128.9" y="1788.4" text-anchor="middle" font-size="14.3" fill="#4D4D4D">0.0</text>
<text x="252.25" y="1788.4" text-anchor="middle" font-size="14.3" fill="#4D4D4D">2.5</text>
<text x="375.6" y="1788.4" text-anchor="middle" font-size="14.3" fill="#4D4D4D">5.0</text>
<text x="498.95" y="1788.4" text-anchor="middle" font-size="14.3" fill="#4D4D4D">7.5</text>
<text x="622.3" y="1788.4" text-anchor="middle" font-size="14.3" fill="#4D4D4D">10.0</text>
<text x="745.65" y="1788.4" text-anchor="middle" font-size="14.3" fill="#4D4D4D">12.5</text>
<text x="417.8" y="1818.6" text-anchor="middle" font-size="20.9" fill="#000">Mean of Methods</text>
<text transform="translate(68.4,1582.2) rotate(-90)" x="0" y="0" text-anchor="middle" font-size="20.9" fill="#000">Difference (Proposed – Standard)</text>
<text x="88.2" y="1357.2" font-size="24.2" font-weight="bold" fill="#000">Score 4: Maximum</text>
<g><line x1="958.14" y1="50.6" x2="958.14" y2="442.3" stroke="#F4F4F4" stroke-width="1.0"/><line x1="1106.02" y1="50.6" x2="1106.02" y2="442.3" stroke="#F4F4F4" stroke-width="1.0"/><line x1="1253.9" y1="50.6" x2="1253.9" y2="442.3" stroke="#F4F4F4" stroke-width="1.0"/><line x1="1401.78" y1="50.6" x2="1401.78" y2="442.3" stroke="#F4F4F4" stroke-width="1.0"/><line x1="879" y1="394.25" x2="1526" y2="394.25" stroke="#F4F4F4" stroke-width="1.0"/><line x1="879" y1="325.15" x2="1526" y2="325.15" stroke="#F4F4F4" stroke-width="1.0"/><line x1="879" y1="256.05" x2="1526" y2="256.05" stroke="#F4F4F4" stroke-width="1.0"/><line x1="879" y1="186.95" x2="1526" y2="186.95" stroke="#F4F4F4" stroke-width="1.0"/><line x1="879" y1="117.85" x2="1526" y2="117.85" stroke="#F4F4F4" stroke-width="1.0"/><line x1="884.2" y1="50.6" x2="884.2" y2="442.3" stroke="#EBEBEB" stroke-width="1.4"/><line x1="1032.08" y1="50.6" x2="1032.08" y2="442.3" stroke="#EBEBEB" stroke-width="1.4"/><line x1="1179.96" y1="50.6" x2="1179.96" y2="442.3" stroke="#EBEBEB" stroke-width="1.4"/><line x1="1327.84" y1="50.6" x2="1327.84" y2="442.3" stroke="#EBEBEB" stroke-width="1.4"/><line x1="1475.72" y1="50.6" x2="1475.72" y2="442.3" stroke="#EBEBEB" stroke-width="1.4"/><line x1="879" y1="428.8" x2="1526" y2="428.8" stroke="#EBEBEB" stroke-width="1.4"/><line x1="879" y1="359.7" x2="1526" y2="359.7" stroke="#EBEBEB" stroke-width="1.4"/><line x1="879" y1="290.6" x2="1526" y2="290.6" stroke="#EBEBEB" stroke-width="1.4"/><line x1="879" y1="221.5" x2="1526" y2="221.5" stroke="#EBEBEB" stroke-width="1.4"/><line x1="879" y1="152.4" x2="1526" y2="152.4" stroke="#EBEBEB" stroke-width="1.4"/><line x1="879" y1="83.3" x2="1526" y2="83.3" stroke="#EBEBEB" stroke-width="1.4"/></g>
<g fill="#000" fill-opacity="0.58" stroke="#000" stroke-opacity="0.45" stroke-width="1.3"><circle cx="908.6" cy="424.6" r="4.75" stroke="none"/><circle cx="908.6" cy="424.6" r="4.1" fill="none"/><circle cx="1143.6" cy="277.3" r="4.75" stroke="none"/><circle cx="1143.6" cy="277.3" r="4.1" fill="none"/><circle cx="1154.6" cy="273.1" r="4.75" stroke="none"/><circle cx="1154.6" cy="273.1" r="4.1" fill="none"/><circle cx="1166.6" cy="359.1" r="4.75" stroke="none"/><circle cx="1166.6" cy="359.1" r="4.1" fill="none"/><circle cx="1154.4" cy="384.2" r="4.75" stroke="none"/><circle cx="1154.4" cy="384.2" r="4.1" fill="none"/><circle cx="1176.2" cy="383.8" r="4.75" stroke="none"/><circle cx="1176.2" cy="383.8" r="4.1" fill="none"/><circle cx="1426.9" cy="105.2" r="4.75" stroke="none"/><circle cx="1426.9" cy="105.2" r="4.1" fill="none"/><circle cx="1473.5" cy="104.5" r="4.75" stroke="none"/><circle cx="1473.5" cy="104.5" r="4.1" fill="none"/><circle cx="1495.1" cy="106.4" r="4.75" stroke="none"/><circle cx="1495.1" cy="106.4" r="4.1" fill="none"/><circle cx="1496.5" cy="105.9" r="4.75" stroke="none"/><circle cx="1496.5" cy="105.9" r="4.1" fill="none"/><circle cx="1483.9" cy="114.3" r="4.75" stroke="none"/><circle cx="1483.9" cy="114.3" r="4.1" fill="none"/><circle cx="1320.5" cy="119.6" r="4.75" stroke="none"/><circle cx="1320.5" cy="119.6" r="4.1" fill="none"/><circle cx="1477.1" cy="128.9" r="4.75" stroke="none"/><circle cx="1477.1" cy="128.9" r="4.1" fill="none"/><circle cx="1481" cy="126.9" r="4.75" stroke="none"/><circle cx="1481" cy="126.9" r="4.1" fill="none"/><circle cx="1457.5" cy="135.5" r="4.75" stroke="none"/><circle cx="1457.5" cy="135.5" r="4.1" fill="none"/><circle cx="1443.8" cy="142.8" r="4.75" stroke="none"/><circle cx="1443.8" cy="142.8" r="4.1" fill="none"/><circle cx="1353.1" cy="144.4" r="4.75" stroke="none"/><circle cx="1353.1" cy="144.4" r="4.1" fill="none"/><circle cx="1333.7" cy="148.1" r="4.75" stroke="none"/><circle cx="1333.7" cy="148.1" r="4.1" fill="none"/><circle cx="1429.9" cy="149.7" r="4.75" stroke="none"/><circle cx="1429.9" cy="149.7" r="4.1" fill="none"/><circle cx="1407.3" cy="153.3" r="4.75" stroke="none"/><circle cx="1407.3" cy="153.3" r="4.1" fill="none"/><circle cx="1399.8" cy="161.3" r="4.75" stroke="none"/><circle cx="1399.8" cy="161.3" r="4.1" fill="none"/><circle cx="1470.3" cy="159" r="4.75" stroke="none"/><circle cx="1470.3" cy="159" r="4.1" fill="none"/><circle cx="1399.3" cy="173.4" r="4.75" stroke="none"/><circle cx="1399.3" cy="173.4" r="4.1" fill="none"/><circle cx="1393" cy="178.2" r="4.75" stroke="none"/><circle cx="1393" cy="178.2" r="4.1" fill="none"/><circle cx="1415.5" cy="179.1" r="4.75" stroke="none"/><circle cx="1415.5" cy="179.1" r="4.1" fill="none"/><circle cx="1400.3" cy="184.6" r="4.75" stroke="none"/><circle cx="1400.3" cy="184.6" r="4.1" fill="none"/><circle cx="1402.5" cy="184.6" r="4.75" stroke="none"/><circle cx="1402.5" cy="184.6" r="4.1" fill="none"/><circle cx="1330.7" cy="186.6" r="4.75" stroke="none"/><circle cx="1330.7" cy="186.6" r="4.1" fill="none"/><circle cx="1346.7" cy="188.2" r="4.75" stroke="none"/><circle cx="1346.7" cy="188.2" r="4.1" fill="none"/><circle cx="1365.4" cy="190" r="4.75" stroke="none"/><circle cx="1365.4" cy="190" r="4.1" fill="none"/><circle cx="1271.9" cy="192.1" r="4.75" stroke="none"/><circle cx="1271.9" cy="192.1" r="4.1" fill="none"/><circle cx="1279.4" cy="194.4" r="4.75" stroke="none"/><circle cx="1279.4" cy="194.4" r="4.1" fill="none"/><circle cx="1273.7" cy="198.5" r="4.75" stroke="none"/><circle cx="1273.7" cy="198.5" r="4.1" fill="none"/><circle cx="1295.1" cy="200.3" r="4.75" stroke="none"/><circle cx="1295.1" cy="200.3" r="4.1" fill="none"/><circle cx="1313.4" cy="198.5" r="4.75" stroke="none"/><circle cx="1313.4" cy="198.5" r="4.1" fill="none"/><circle cx="1325.5" cy="201.4" r="4.75" stroke="none"/><circle cx="1325.5" cy="201.4" r="4.1" fill="none"/><circle cx="1348.3" cy="201.4" r="4.75" stroke="none"/><circle cx="1348.3" cy="201.4" r="4.1" fill="none"/><circle cx="1391.1" cy="199.6" r="4.75" stroke="none"/><circle cx="1391.1" cy="199.6" r="4.1" fill="none"/><circle cx="1408.9" cy="198" r="4.75" stroke="none"/><circle cx="1408.9" cy="198" r="4.1" fill="none"/><circle cx="1272.3" cy="205.8" r="4.75" stroke="none"/><circle cx="1272.3" cy="205.8" r="4.1" fill="none"/><circle cx="1296.3" cy="209.9" r="4.75" stroke="none"/><circle cx="1296.3" cy="209.9" r="4.1" fill="none"/><circle cx="1355.1" cy="208.7" r="4.75" stroke="none"/><circle cx="1355.1" cy="208.7" r="4.1" fill="none"/><circle cx="1356.9" cy="214.7" r="4.75" stroke="none"/><circle cx="1356.9" cy="214.7" r="4.1" fill="none"/><circle cx="1312.2" cy="216" r="4.75" stroke="none"/><circle cx="1312.2" cy="216" r="4.1" fill="none"/><circle cx="1313.4" cy="220.1" r="4.75" stroke="none"/><circle cx="1313.4" cy="220.1" r="4.1" fill="none"/><circle cx="1328.7" cy="222.9" r="4.75" stroke="none"/><circle cx="1328.7" cy="222.9" r="4.1" fill="none"/><circle cx="1375.6" cy="224.2" r="4.75" stroke="none"/><circle cx="1375.6" cy="224.2" r="4.1" fill="none"/><circle cx="1281.2" cy="237" r="4.75" stroke="none"/><circle cx="1281.2" cy="237" r="4.1" fill="none"/><circle cx="1344.9" cy="239.3" r="4.75" stroke="none"/><circle cx="1344.9" cy="239.3" r="4.1" fill="none"/><circle cx="1347.4" cy="247.9" r="4.75" stroke="none"/><circle cx="1347.4" cy="247.9" r="4.1" fill="none"/><circle cx="1224.5" cy="256.4" r="4.75" stroke="none"/><circle cx="1224.5" cy="256.4" r="4.1" fill="none"/><circle cx="1236.3" cy="262.3" r="4.75" stroke="none"/><circle cx="1236.3" cy="262.3" r="4.1" fill="none"/><circle cx="1284.7" cy="256.8" r="4.75" stroke="none"/><circle cx="1284.7" cy="256.8" r="4.1" fill="none"/><circle cx="1297.2" cy="255.2" r="4.75" stroke="none"/><circle cx="1297.2" cy="255.2" r="4.1" fill="none"/><circle cx="1294.2" cy="259.3" r="4.75" stroke="none"/><circle cx="1294.2" cy="259.3" r="4.1" fill="none"/><circle cx="1274.6" cy="266.2" r="4.75" stroke="none"/><circle cx="1274.6" cy="266.2" r="4.1" fill="none"/><circle cx="1284.2" cy="266.2" r="4.75" stroke="none"/><circle cx="1284.2" cy="266.2" r="4.1" fill="none"/><circle cx="1316.8" cy="263.5" r="4.75" stroke="none"/><circle cx="1316.8" cy="263.5" r="4.1" fill="none"/><circle cx="1299.7" cy="281.7" r="4.75" stroke="none"/><circle cx="1299.7" cy="281.7" r="4.1" fill="none"/><circle cx="1300.6" cy="281.7" r="4.75" stroke="none"/><circle cx="1300.6" cy="281.7" r="4.1" fill="none"/><circle cx="1319.3" cy="283.5" r="4.75" stroke="none"/><circle cx="1319.3" cy="283.5" r="4.1" fill="none"/><circle cx="1246.8" cy="285.6" r="4.75" stroke="none"/><circle cx="1246.8" cy="285.6" r="4.1" fill="none"/><circle cx="1227" cy="292.6" r="4.75" stroke="none"/><circle cx="1227" cy="292.6" r="4.1" fill="none"/><circle cx="1275.8" cy="304.7" r="4.75" stroke="none"/><circle cx="1275.8" cy="304.7" r="4.1" fill="none"/></g>
<line x1="879" y1="67.72" x2="1526" y2="67.72" stroke="#FF0000" stroke-width="3.0" stroke-dasharray="11.5 11.35"/>
<line x1="879" y1="201.97" x2="1526" y2="201.97" stroke="#0000FF" stroke-width="3.9"/>
<line x1="879" y1="336.23" x2="1526" y2="336.23" stroke="#FF0000" stroke-width="3.0" stroke-dasharray="11.5 11.35"/>
<text x="1479.6" y="74.92" text-anchor="end" font-size="18.5" fill="#FF0000">+1.5 IQR = 322.54</text>
<text x="1478" y="209.17" text-anchor="end" font-size="18.5" fill="#0000FF">Median bias = 128.26</text>
<text x="1480" y="343.43" text-anchor="end" font-size="18.5" fill="#FF0000">-1.5 IQR = -66.03</text>
<text x="870.9" y="433.8" text-anchor="end" font-size="14.3" fill="#4D4D4D">-200</text>
<text x="870.9" y="364.7" text-anchor="end" font-size="14.3" fill="#4D4D4D">-100</text>
<text x="870.9" y="295.6" text-anchor="end" font-size="14.3" fill="#4D4D4D">0</text>
<text x="870.9" y="226.5" text-anchor="end" font-size="14.3" fill="#4D4D4D">100</text>
<text x="870.9" y="157.4" text-anchor="end" font-size="14.3" fill="#4D4D4D">200</text>
<text x="870.9" y="88.3" text-anchor="end" font-size="14.3" fill="#4D4D4D">300</text>
<text x="884.2" y="461" text-anchor="middle" font-size="14.3" fill="#4D4D4D">300</text>
<text x="1032.08" y="461" text-anchor="middle" font-size="14.3" fill="#4D4D4D">400</text>
<text x="1179.96" y="461" text-anchor="middle" font-size="14.3" fill="#4D4D4D">500</text>
<text x="1327.84" y="461" text-anchor="middle" font-size="14.3" fill="#4D4D4D">600</text>
<text x="1475.72" y="461" text-anchor="middle" font-size="14.3" fill="#4D4D4D">700</text>
<text x="1185.2" y="501" text-anchor="middle" font-size="20.9" fill="#000">Mean of Methods</text>
<text transform="translate(836.6,229.9) rotate(-90)" x="0" y="0" text-anchor="middle" font-size="20.9" fill="#000">Difference (Proposed – Standard)</text>
<text x="860.4" y="30.2" font-size="24.2" font-weight="bold" fill="#000">Gray matter volume</text>
<g><line x1="1005.66" y1="631.5" x2="1005.66" y2="1024" stroke="#F4F4F4" stroke-width="1.0"/><line x1="1165.77" y1="631.5" x2="1165.77" y2="1024" stroke="#F4F4F4" stroke-width="1.0"/><line x1="1325.89" y1="631.5" x2="1325.89" y2="1024" stroke="#F4F4F4" stroke-width="1.0"/><line x1="1486" y1="631.5" x2="1486" y2="1024" stroke="#F4F4F4" stroke-width="1.0"/><line x1="883.5" y1="989.9" x2="1529.5" y2="989.9" stroke="#F4F4F4" stroke-width="1.0"/><line x1="883.5" y1="920.66" x2="1529.5" y2="920.66" stroke="#F4F4F4" stroke-width="1.0"/><line x1="883.5" y1="851.42" x2="1529.5" y2="851.42" stroke="#F4F4F4" stroke-width="1.0"/><line x1="883.5" y1="782.18" x2="1529.5" y2="782.18" stroke="#F4F4F4" stroke-width="1.0"/><line x1="883.5" y1="712.94" x2="1529.5" y2="712.94" stroke="#F4F4F4" stroke-width="1.0"/><line x1="883.5" y1="643.7" x2="1529.5" y2="643.7" stroke="#F4F4F4" stroke-width="1.0"/><line x1="925.6" y1="631.5" x2="925.6" y2="1024" stroke="#EBEBEB" stroke-width="1.4"/><line x1="1085.72" y1="631.5" x2="1085.72" y2="1024" stroke="#EBEBEB" stroke-width="1.4"/><line x1="1245.83" y1="631.5" x2="1245.83" y2="1024" stroke="#EBEBEB" stroke-width="1.4"/><line x1="1405.95" y1="631.5" x2="1405.95" y2="1024" stroke="#EBEBEB" stroke-width="1.4"/><line x1="883.5" y1="955.28" x2="1529.5" y2="955.28" stroke="#EBEBEB" stroke-width="1.4"/><line x1="883.5" y1="886.04" x2="1529.5" y2="886.04" stroke="#EBEBEB" stroke-width="1.4"/><line x1="883.5" y1="816.8" x2="1529.5" y2="816.8" stroke="#EBEBEB" stroke-width="1.4"/><line x1="883.5" y1="747.56" x2="1529.5" y2="747.56" stroke="#EBEBEB" stroke-width="1.4"/><line x1="883.5" y1="678.32" x2="1529.5" y2="678.32" stroke="#EBEBEB" stroke-width="1.4"/></g>
<g fill="#000" fill-opacity="0.58" stroke="#000" stroke-opacity="0.45" stroke-width="1.3"><circle cx="923.6" cy="717" r="4.75" stroke="none"/><circle cx="923.6" cy="717" r="4.1" fill="none"/><circle cx="912.6" cy="968.4" r="4.75" stroke="none"/><circle cx="912.6" cy="968.4" r="4.1" fill="none"/><circle cx="955.1" cy="960" r="4.75" stroke="none"/><circle cx="955.1" cy="960" r="4.1" fill="none"/><circle cx="979.2" cy="981.7" r="4.75" stroke="none"/><circle cx="979.2" cy="981.7" r="4.1" fill="none"/><circle cx="979.5" cy="900.4" r="4.75" stroke="none"/><circle cx="979.5" cy="900.4" r="4.1" fill="none"/><circle cx="977.9" cy="911.3" r="4.75" stroke="none"/><circle cx="977.9" cy="911.3" r="4.1" fill="none"/><circle cx="1023.1" cy="905.5" r="4.75" stroke="none"/><circle cx="1023.1" cy="905.5" r="4.1" fill="none"/><circle cx="1028.8" cy="931.2" r="4.75" stroke="none"/><circle cx="1028.8" cy="931.2" r="4.1" fill="none"/><circle cx="1043.2" cy="908.6" r="4.75" stroke="none"/><circle cx="1043.2" cy="908.6" r="4.1" fill="none"/><circle cx="1049.4" cy="822.7" r="4.75" stroke="none"/><circle cx="1049.4" cy="822.7" r="4.1" fill="none"/><circle cx="1050.3" cy="954.5" r="4.75" stroke="none"/><circle cx="1050.3" cy="954.5" r="4.1" fill="none"/><circle cx="1084" cy="900.2" r="4.75" stroke="none"/><circle cx="1084" cy="900.2" r="4.1" fill="none"/><circle cx="1093.3" cy="921.9" r="4.75" stroke="none"/><circle cx="1093.3" cy="921.9" r="4.1" fill="none"/><circle cx="1100.8" cy="939.7" r="4.75" stroke="none"/><circle cx="1100.8" cy="939.7" r="4.1" fill="none"/><circle cx="1108.4" cy="893.4" r="4.75" stroke="none"/><circle cx="1108.4" cy="893.4" r="4.1" fill="none"/><circle cx="1121.7" cy="704.6" r="4.75" stroke="none"/><circle cx="1121.7" cy="704.6" r="4.1" fill="none"/><circle cx="1129" cy="907.3" r="4.75" stroke="none"/><circle cx="1129" cy="907.3" r="4.1" fill="none"/><circle cx="1141.1" cy="673.6" r="4.75" stroke="none"/><circle cx="1141.1" cy="673.6" r="4.1" fill="none"/><circle cx="1141.1" cy="760.9" r="4.75" stroke="none"/><circle cx="1141.1" cy="760.9" r="4.1" fill="none"/><circle cx="1143.6" cy="814.7" r="4.75" stroke="none"/><circle cx="1143.6" cy="814.7" r="4.1" fill="none"/><circle cx="1140.9" cy="875.4" r="4.75" stroke="none"/><circle cx="1140.9" cy="875.4" r="4.1" fill="none"/><circle cx="1143.4" cy="931" r="4.75" stroke="none"/><circle cx="1143.4" cy="931" r="4.1" fill="none"/><circle cx="1175" cy="656.1" r="4.75" stroke="none"/><circle cx="1175" cy="656.1" r="4.1" fill="none"/><circle cx="1168.8" cy="836" r="4.75" stroke="none"/><circle cx="1168.8" cy="836" r="4.1" fill="none"/><circle cx="1176.4" cy="828.5" r="4.75" stroke="none"/><circle cx="1176.4" cy="828.5" r="4.1" fill="none"/><circle cx="1169.3" cy="858.4" r="4.75" stroke="none"/><circle cx="1169.3" cy="858.4" r="4.1" fill="none"/><circle cx="1169.9" cy="893.8" r="4.75" stroke="none"/><circle cx="1169.9" cy="893.8" r="4.1" fill="none"/><circle cx="1174.6" cy="891.6" r="4.75" stroke="none"/><circle cx="1174.6" cy="891.6" r="4.1" fill="none"/><circle cx="1187.7" cy="902" r="4.75" stroke="none"/><circle cx="1187.7" cy="902" r="4.1" fill="none"/><circle cx="1174.4" cy="937" r="4.75" stroke="none"/><circle cx="1174.4" cy="937" r="4.1" fill="none"/><circle cx="1197.9" cy="932.3" r="4.75" stroke="none"/><circle cx="1197.9" cy="932.3" r="4.1" fill="none"/><circle cx="1201.4" cy="731.4" r="4.75" stroke="none"/><circle cx="1201.4" cy="731.4" r="4.1" fill="none"/><circle cx="1204.9" cy="898.2" r="4.75" stroke="none"/><circle cx="1204.9" cy="898.2" r="4.1" fill="none"/><circle cx="1211.1" cy="806.5" r="4.75" stroke="none"/><circle cx="1211.1" cy="806.5" r="4.1" fill="none"/><circle cx="1208.9" cy="851.9" r="4.75" stroke="none"/><circle cx="1208.9" cy="851.9" r="4.1" fill="none"/><circle cx="1216.7" cy="847.7" r="4.75" stroke="none"/><circle cx="1216.7" cy="847.7" r="4.1" fill="none"/><circle cx="1214.5" cy="904" r="4.75" stroke="none"/><circle cx="1214.5" cy="904" r="4.1" fill="none"/><circle cx="1222.5" cy="826.2" r="4.75" stroke="none"/><circle cx="1222.5" cy="826.2" r="4.1" fill="none"/><circle cx="1228.4" cy="896.2" r="4.75" stroke="none"/><circle cx="1228.4" cy="896.2" r="4.1" fill="none"/><circle cx="1225.3" cy="924.1" r="4.75" stroke="none"/><circle cx="1225.3" cy="924.1" r="4.1" fill="none"/><circle cx="1234.9" cy="835.8" r="4.75" stroke="none"/><circle cx="1234.9" cy="835.8" r="4.1" fill="none"/><circle cx="1243.5" cy="830.9" r="4.75" stroke="none"/><circle cx="1243.5" cy="830.9" r="4.1" fill="none"/><circle cx="1236.4" cy="862.4" r="4.75" stroke="none"/><circle cx="1236.4" cy="862.4" r="4.1" fill="none"/><circle cx="1261.9" cy="842.2" r="4.75" stroke="none"/><circle cx="1261.9" cy="842.2" r="4.1" fill="none"/><circle cx="1263" cy="869" r="4.75" stroke="none"/><circle cx="1263" cy="869" r="4.1" fill="none"/><circle cx="1272.1" cy="831.1" r="4.75" stroke="none"/><circle cx="1272.1" cy="831.1" r="4.1" fill="none"/><circle cx="1278.7" cy="864.6" r="4.75" stroke="none"/><circle cx="1278.7" cy="864.6" r="4.1" fill="none"/><circle cx="1283.8" cy="878.1" r="4.75" stroke="none"/><circle cx="1283.8" cy="878.1" r="4.1" fill="none"/><circle cx="1288.7" cy="875.9" r="4.75" stroke="none"/><circle cx="1288.7" cy="875.9" r="4.1" fill="none"/><circle cx="1287.6" cy="922.2" r="4.75" stroke="none"/><circle cx="1287.6" cy="922.2" r="4.1" fill="none"/><circle cx="1290" cy="785.5" r="4.75" stroke="none"/><circle cx="1290" cy="785.5" r="4.1" fill="none"/><circle cx="1298.4" cy="852.4" r="4.75" stroke="none"/><circle cx="1298.4" cy="852.4" r="4.1" fill="none"/><circle cx="1302.9" cy="837.3" r="4.75" stroke="none"/><circle cx="1302.9" cy="837.3" r="4.1" fill="none"/><circle cx="1324.4" cy="750.1" r="4.75" stroke="none"/><circle cx="1324.4" cy="750.1" r="4.1" fill="none"/><circle cx="1327.5" cy="814.7" r="4.75" stroke="none"/><circle cx="1327.5" cy="814.7" r="4.1" fill="none"/><circle cx="1347.8" cy="822.9" r="4.75" stroke="none"/><circle cx="1347.8" cy="822.9" r="4.1" fill="none"/><circle cx="1363.8" cy="793" r="4.75" stroke="none"/><circle cx="1363.8" cy="793" r="4.1" fill="none"/><circle cx="1364.9" cy="796.8" r="4.75" stroke="none"/><circle cx="1364.9" cy="796.8" r="4.1" fill="none"/><circle cx="1402.3" cy="749.2" r="4.75" stroke="none"/><circle cx="1402.3" cy="749.2" r="4.1" fill="none"/><circle cx="1420.5" cy="769.8" r="4.75" stroke="none"/><circle cx="1420.5" cy="769.8" r="4.1" fill="none"/><circle cx="1459" cy="695.3" r="4.75" stroke="none"/><circle cx="1459" cy="695.3" r="4.1" fill="none"/><circle cx="1477" cy="724.6" r="4.75" stroke="none"/><circle cx="1477" cy="724.6" r="4.1" fill="none"/><circle cx="1486.3" cy="649.7" r="4.75" stroke="none"/><circle cx="1486.3" cy="649.7" r="4.1" fill="none"/><circle cx="1500" cy="665.2" r="4.75" stroke="none"/><circle cx="1500" cy="665.2" r="4.1" fill="none"/></g>
<line x1="883.5" y1="705.82" x2="1529.5" y2="705.82" stroke="#FF0000" stroke-width="3.0" stroke-dasharray="11.5 11.35"/>
<line x1="883.5" y1="855.95" x2="1529.5" y2="855.95" stroke="#0000FF" stroke-width="3.9"/>
<line x1="883.5" y1="1006.07" x2="1529.5" y2="1006.07" stroke="#FF0000" stroke-width="3.0" stroke-dasharray="11.5 11.35"/>
<text x="1484.9" y="713.02" text-anchor="end" font-size="18.5" fill="#FF0000">+1.5 IQR = 80.14</text>
<text x="1482.7" y="863.15" text-anchor="end" font-size="18.5" fill="#0000FF">Median bias = -28.27</text>
<text x="1483.8" y="1013.27" text-anchor="end" font-size="18.5" fill="#FF0000">-1.5 IQR = -136.68</text>
<text x="874.6" y="960.28" text-anchor="end" font-size="14.3" fill="#4D4D4D">-100</text>
<text x="874.6" y="891.04" text-anchor="end" font-size="14.3" fill="#4D4D4D">-50</text>
<text x="874.6" y="821.8" text-anchor="end" font-size="14.3" fill="#4D4D4D">0</text>
<text x="874.6" y="752.56" text-anchor="end" font-size="14.3" fill="#4D4D4D">50</text>
<text x="874.6" y="683.32" text-anchor="end" font-size="14.3" fill="#4D4D4D">100</text>
<text x="925.6" y="1042.6" text-anchor="middle" font-size="14.3" fill="#4D4D4D">450</text>
<text x="1085.72" y="1042.6" text-anchor="middle" font-size="14.3" fill="#4D4D4D">500</text>
<text x="1245.83" y="1042.6" text-anchor="middle" font-size="14.3" fill="#4D4D4D">550</text>
<text x="1405.95" y="1042.6" text-anchor="middle" font-size="14.3" fill="#4D4D4D">600</text>
<text x="1200.6" y="1085.6" text-anchor="middle" font-size="20.9" fill="#000">Mean of Methods</text>
<text transform="translate(836.6,816.6) rotate(-90)" x="0" y="0" text-anchor="middle" font-size="20.9" fill="#000">Difference (Proposed – Standard)</text>
<text x="862" y="611.4" font-size="24.2" font-weight="bold" fill="#000">White matter volume</text>
<g><line x1="988.05" y1="1212" x2="988.05" y2="1603.2" stroke="#F4F4F4" stroke-width="1.0"/><line x1="1113.37" y1="1212" x2="1113.37" y2="1603.2" stroke="#F4F4F4" stroke-width="1.0"/><line x1="1238.67" y1="1212" x2="1238.67" y2="1603.2" stroke="#F4F4F4" stroke-width="1.0"/><line x1="1363.99" y1="1212" x2="1363.99" y2="1603.2" stroke="#F4F4F4" stroke-width="1.0"/><line x1="1489.3" y1="1212" x2="1489.3" y2="1603.2" stroke="#F4F4F4" stroke-width="1.0"/><line x1="878.5" y1="1544.9" x2="1525.5" y2="1544.9" stroke="#F4F4F4" stroke-width="1.0"/><line x1="878.5" y1="1416.54" x2="1525.5" y2="1416.54" stroke="#F4F4F4" stroke-width="1.0"/><line x1="878.5" y1="1288.18" x2="1525.5" y2="1288.18" stroke="#F4F4F4" stroke-width="1.0"/><line x1="925.4" y1="1212" x2="925.4" y2="1603.2" stroke="#EBEBEB" stroke-width="1.4"/><line x1="1050.71" y1="1212" x2="1050.71" y2="1603.2" stroke="#EBEBEB" stroke-width="1.4"/><line x1="1176.02" y1="1212" x2="1176.02" y2="1603.2" stroke="#EBEBEB" stroke-width="1.4"/><line x1="1301.33" y1="1212" x2="1301.33" y2="1603.2" stroke="#EBEBEB" stroke-width="1.4"/><line x1="1426.64" y1="1212" x2="1426.64" y2="1603.2" stroke="#EBEBEB" stroke-width="1.4"/><line x1="878.5" y1="1480.72" x2="1525.5" y2="1480.72" stroke="#EBEBEB" stroke-width="1.4"/><line x1="878.5" y1="1352.36" x2="1525.5" y2="1352.36" stroke="#EBEBEB" stroke-width="1.4"/><line x1="878.5" y1="1224" x2="1525.5" y2="1224" stroke="#EBEBEB" stroke-width="1.4"/></g>
<g fill="#000" fill-opacity="0.58" stroke="#000" stroke-opacity="0.45" stroke-width="1.3"><circle cx="908.6" cy="1585.4" r="4.75" stroke="none"/><circle cx="908.6" cy="1585.4" r="4.1" fill="none"/><circle cx="1076.2" cy="1309.2" r="4.75" stroke="none"/><circle cx="1076.2" cy="1309.2" r="4.1" fill="none"/><circle cx="1098.2" cy="1521.9" r="4.75" stroke="none"/><circle cx="1098.2" cy="1521.9" r="4.1" fill="none"/><circle cx="1113.5" cy="1399.8" r="4.75" stroke="none"/><circle cx="1113.5" cy="1399.8" r="4.1" fill="none"/><circle cx="1117.4" cy="1401.2" r="4.75" stroke="none"/><circle cx="1117.4" cy="1401.2" r="4.1" fill="none"/><circle cx="1143.6" cy="1293.7" r="4.75" stroke="none"/><circle cx="1143.6" cy="1293.7" r="4.1" fill="none"/><circle cx="1147.3" cy="1334.3" r="4.75" stroke="none"/><circle cx="1147.3" cy="1334.3" r="4.1" fill="none"/><circle cx="1143.1" cy="1353.3" r="4.75" stroke="none"/><circle cx="1143.1" cy="1353.3" r="4.1" fill="none"/><circle cx="1157.8" cy="1362.6" r="4.75" stroke="none"/><circle cx="1157.8" cy="1362.6" r="4.1" fill="none"/><circle cx="1164.6" cy="1405.4" r="4.75" stroke="none"/><circle cx="1164.6" cy="1405.4" r="4.1" fill="none"/><circle cx="1177.3" cy="1378.8" r="4.75" stroke="none"/><circle cx="1177.3" cy="1378.8" r="4.1" fill="none"/><circle cx="1179" cy="1358.4" r="4.75" stroke="none"/><circle cx="1179" cy="1358.4" r="4.1" fill="none"/><circle cx="1185" cy="1381.4" r="4.75" stroke="none"/><circle cx="1185" cy="1381.4" r="4.1" fill="none"/><circle cx="1180.1" cy="1386.8" r="4.75" stroke="none"/><circle cx="1180.1" cy="1386.8" r="4.1" fill="none"/><circle cx="1193.2" cy="1381.7" r="4.75" stroke="none"/><circle cx="1193.2" cy="1381.7" r="4.1" fill="none"/><circle cx="1187.7" cy="1412" r="4.75" stroke="none"/><circle cx="1187.7" cy="1412" r="4.1" fill="none"/><circle cx="1188.8" cy="1416.9" r="4.75" stroke="none"/><circle cx="1188.8" cy="1416.9" r="4.1" fill="none"/><circle cx="1190.3" cy="1338.9" r="4.75" stroke="none"/><circle cx="1190.3" cy="1338.9" r="4.1" fill="none"/><circle cx="1199.4" cy="1337.4" r="4.75" stroke="none"/><circle cx="1199.4" cy="1337.4" r="4.1" fill="none"/><circle cx="1201.4" cy="1291.3" r="4.75" stroke="none"/><circle cx="1201.4" cy="1291.3" r="4.1" fill="none"/><circle cx="1202.3" cy="1402.3" r="4.75" stroke="none"/><circle cx="1202.3" cy="1402.3" r="4.1" fill="none"/><circle cx="1218" cy="1344.6" r="4.75" stroke="none"/><circle cx="1218" cy="1344.6" r="4.1" fill="none"/><circle cx="1219.2" cy="1345.6" r="4.75" stroke="none"/><circle cx="1219.2" cy="1345.6" r="4.1" fill="none"/><circle cx="1218.6" cy="1345" r="4.75" stroke="none"/><circle cx="1218.6" cy="1345" r="4.1" fill="none"/><circle cx="1226.1" cy="1359.3" r="4.75" stroke="none"/><circle cx="1226.1" cy="1359.3" r="4.1" fill="none"/><circle cx="1235.1" cy="1355.8" r="4.75" stroke="none"/><circle cx="1235.1" cy="1355.8" r="4.1" fill="none"/><circle cx="1246.9" cy="1343.2" r="4.75" stroke="none"/><circle cx="1246.9" cy="1343.2" r="4.1" fill="none"/><circle cx="1249.6" cy="1370.7" r="4.75" stroke="none"/><circle cx="1249.6" cy="1370.7" r="4.1" fill="none"/><circle cx="1257.2" cy="1365.5" r="4.75" stroke="none"/><circle cx="1257.2" cy="1365.5" r="4.1" fill="none"/><circle cx="1268.1" cy="1335.2" r="4.75" stroke="none"/><circle cx="1268.1" cy="1335.2" r="4.1" fill="none"/><circle cx="1268.9" cy="1342.3" r="4.75" stroke="none"/><circle cx="1268.9" cy="1342.3" r="4.1" fill="none"/><circle cx="1277.2" cy="1373.7" r="4.75" stroke="none"/><circle cx="1277.2" cy="1373.7" r="4.1" fill="none"/><circle cx="1281.5" cy="1363.7" r="4.75" stroke="none"/><circle cx="1281.5" cy="1363.7" r="4.1" fill="none"/><circle cx="1290.6" cy="1360.5" r="4.75" stroke="none"/><circle cx="1290.6" cy="1360.5" r="4.1" fill="none"/><circle cx="1291.2" cy="1328" r="4.75" stroke="none"/><circle cx="1291.2" cy="1328" r="4.1" fill="none"/><circle cx="1320.7" cy="1328" r="4.75" stroke="none"/><circle cx="1320.7" cy="1328" r="4.1" fill="none"/><circle cx="1328.5" cy="1325.3" r="4.75" stroke="none"/><circle cx="1328.5" cy="1325.3" r="4.1" fill="none"/><circle cx="1317" cy="1344" r="4.75" stroke="none"/><circle cx="1317" cy="1344" r="4.1" fill="none"/><circle cx="1320.7" cy="1370.2" r="4.75" stroke="none"/><circle cx="1320.7" cy="1370.2" r="4.1" fill="none"/><circle cx="1348.6" cy="1351.4" r="4.75" stroke="none"/><circle cx="1348.6" cy="1351.4" r="4.1" fill="none"/><circle cx="1364.1" cy="1346.7" r="4.75" stroke="none"/><circle cx="1364.1" cy="1346.7" r="4.1" fill="none"/><circle cx="1367.4" cy="1330.3" r="4.75" stroke="none"/><circle cx="1367.4" cy="1330.3" r="4.1" fill="none"/><circle cx="1244" cy="1401.8" r="4.75" stroke="none"/><circle cx="1244" cy="1401.8" r="4.1" fill="none"/><circle cx="1275.4" cy="1391.4" r="4.75" stroke="none"/><circle cx="1275.4" cy="1391.4" r="4.1" fill="none"/><circle cx="1294" cy="1318.8" r="4.75" stroke="none"/><circle cx="1294" cy="1318.8" r="4.1" fill="none"/><circle cx="1296.9" cy="1311.7" r="4.75" stroke="none"/><circle cx="1296.9" cy="1311.7" r="4.1" fill="none"/><circle cx="1300.7" cy="1316.3" r="4.75" stroke="none"/><circle cx="1300.7" cy="1316.3" r="4.1" fill="none"/><circle cx="1314.8" cy="1299.9" r="4.75" stroke="none"/><circle cx="1314.8" cy="1299.9" r="4.1" fill="none"/><circle cx="1319.7" cy="1315.7" r="4.75" stroke="none"/><circle cx="1319.7" cy="1315.7" r="4.1" fill="none"/><circle cx="1341" cy="1301.9" r="4.75" stroke="none"/><circle cx="1341" cy="1301.9" r="4.1" fill="none"/><circle cx="1346.5" cy="1305.2" r="4.75" stroke="none"/><circle cx="1346.5" cy="1305.2" r="4.1" fill="none"/><circle cx="1348.7" cy="1239.7" r="4.75" stroke="none"/><circle cx="1348.7" cy="1239.7" r="4.1" fill="none"/><circle cx="1354.9" cy="1305.7" r="4.75" stroke="none"/><circle cx="1354.9" cy="1305.7" r="4.1" fill="none"/><circle cx="1377.7" cy="1320.1" r="4.75" stroke="none"/><circle cx="1377.7" cy="1320.1" r="4.1" fill="none"/><circle cx="1395" cy="1274.5" r="4.75" stroke="none"/><circle cx="1395" cy="1274.5" r="4.1" fill="none"/><circle cx="1427.6" cy="1331.6" r="4.75" stroke="none"/><circle cx="1427.6" cy="1331.6" r="4.1" fill="none"/><circle cx="1429.6" cy="1229.7" r="4.75" stroke="none"/><circle cx="1429.6" cy="1229.7" r="4.1" fill="none"/><circle cx="1431.6" cy="1279.8" r="4.75" stroke="none"/><circle cx="1431.6" cy="1279.8" r="4.1" fill="none"/><circle cx="1435.3" cy="1279.8" r="4.75" stroke="none"/><circle cx="1435.3" cy="1279.8" r="4.1" fill="none"/><circle cx="1436.9" cy="1280.2" r="4.75" stroke="none"/><circle cx="1436.9" cy="1280.2" r="4.1" fill="none"/><circle cx="1433.3" cy="1303.7" r="4.75" stroke="none"/><circle cx="1433.3" cy="1303.7" r="4.1" fill="none"/><circle cx="1449.3" cy="1277.3" r="4.75" stroke="none"/><circle cx="1449.3" cy="1277.3" r="4.1" fill="none"/><circle cx="1485.4" cy="1282.7" r="4.75" stroke="none"/><circle cx="1485.4" cy="1282.7" r="4.1" fill="none"/><circle cx="1496" cy="1243.7" r="4.75" stroke="none"/><circle cx="1496" cy="1243.7" r="4.1" fill="none"/></g>
<line x1="878.5" y1="1249.46" x2="1525.5" y2="1249.46" stroke="#FF0000" stroke-width="3.0" stroke-dasharray="11.5 11.35"/>
<line x1="878.5" y1="1342.48" x2="1525.5" y2="1342.48" stroke="#0000FF" stroke-width="3.9"/>
<line x1="878.5" y1="1435.49" x2="1525.5" y2="1435.49" stroke="#FF0000" stroke-width="3.0" stroke-dasharray="11.5 11.35"/>
<text x="1480.1" y="1256.66" text-anchor="end" font-size="18.5" fill="#FF0000">+1.5 IQR = -39.67</text>
<text x="1478.5" y="1349.68" text-anchor="end" font-size="18.5" fill="#0000FF">Median bias = -184.6</text>
<text x="1479.4" y="1442.69" text-anchor="end" font-size="18.5" fill="#FF0000">-1.5 IQR = -329.53</text>
<text x="870.9" y="1485.72" text-anchor="end" font-size="14.3" fill="#4D4D4D">-400</text>
<text x="870.9" y="1357.36" text-anchor="end" font-size="14.3" fill="#4D4D4D">-200</text>
<text x="870.9" y="1229" text-anchor="end" font-size="14.3" fill="#4D4D4D">0</text>
<text x="925.4" y="1622.2" text-anchor="middle" font-size="14.3" fill="#4D4D4D">1000</text>
<text x="1050.71" y="1622.2" text-anchor="middle" font-size="14.3" fill="#4D4D4D">1100</text>
<text x="1176.02" y="1622.2" text-anchor="middle" font-size="14.3" fill="#4D4D4D">1200</text>
<text x="1301.33" y="1622.2" text-anchor="middle" font-size="14.3" fill="#4D4D4D">1300</text>
<text x="1426.64" y="1622.2" text-anchor="middle" font-size="14.3" fill="#4D4D4D">1400</text>
<text x="1189.8" y="1659.3" text-anchor="middle" font-size="20.9" fill="#000">Mean of Methods</text>
<text transform="translate(825.8,1400.7) rotate(-90)" x="0" y="0" text-anchor="middle" font-size="20.9" fill="#000">Difference (Proposed – Standard)</text>
<text x="858.3" y="1191.4" font-size="24.2" font-weight="bold" fill="#000">Brain volume</text>
</svg>
</body></html>
